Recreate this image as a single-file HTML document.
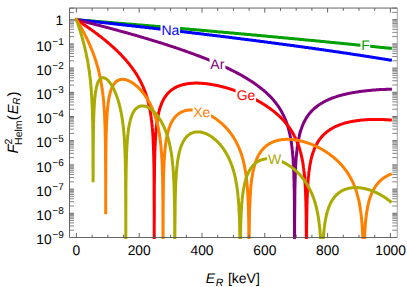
<!DOCTYPE html>
<html><head><meta charset="utf-8"><style>
html,body{margin:0;padding:0;background:#fff}
svg{display:block}
text{font-family:"Liberation Sans",sans-serif;text-rendering:geometricPrecision}
</style></head><body>
<svg width="407" height="287" viewBox="0 0 407 287">
<rect width="407" height="287" fill="#fff"/>
<defs><clipPath id="c"><rect x="69.5" y="8.05" width="327.80" height="230.85"/></clipPath><clipPath id="cXe"><path clip-rule="evenodd" d="M69.5 8.05 H397.3 V238.9 H69.5 Z M99.7 214.2 h12 V240 h-12 Z"/></clipPath><clipPath id="cW"><path clip-rule="evenodd" d="M69.5 8.05 H397.3 V238.9 H69.5 Z M87.1 182.3 h12 V240 h-12 Z"/></clipPath></defs>
<g clip-path="url(#c)" fill="none" stroke-width="3.0" stroke-linejoin="round" stroke-linecap="square">
<path d="M76.4 19.7 L77.0 19.8 L77.7 19.8 L78.3 19.9 L78.9 19.9 L79.5 20.0 L80.2 20.0 L80.8 20.1 L81.4 20.1 L82.1 20.2 L82.7 20.2 L83.3 20.3 L83.9 20.3 L84.6 20.4 L85.2 20.4 L85.8 20.5 L86.4 20.5 L87.1 20.6 L87.7 20.6 L88.3 20.7 L89.0 20.7 L89.6 20.8 L90.2 20.8 L90.8 20.9 L91.5 20.9 L92.1 21.0 L92.7 21.0 L93.4 21.1 L94.0 21.1 L94.6 21.2 L95.2 21.2 L95.9 21.3 L96.5 21.4 L97.1 21.4 L97.8 21.5 L98.4 21.5 L99.0 21.6 L99.6 21.6 L100.3 21.7 L100.9 21.7 L101.5 21.8 L102.1 21.8 L102.8 21.9 L103.4 21.9 L104.0 22.0 L104.7 22.0 L105.3 22.1 L105.9 22.1 L106.5 22.2 L107.2 22.2 L107.8 22.3 L108.4 22.3 L109.1 22.4 L109.7 22.4 L110.3 22.5 L110.9 22.5 L111.6 22.6 L112.2 22.7 L112.8 22.7 L113.5 22.8 L114.1 22.8 L114.7 22.9 L115.3 22.9 L116.0 23.0 L116.6 23.0 L117.2 23.1 L117.8 23.1 L118.5 23.2 L119.1 23.2 L119.7 23.3 L120.4 23.3 L121.0 23.4 L121.6 23.4 L122.2 23.5 L122.9 23.5 L123.5 23.6 L124.1 23.7 L124.8 23.7 L125.4 23.8 L126.0 23.8 L126.6 23.9 L127.3 23.9 L127.9 24.0 L128.5 24.0 L129.2 24.1 L129.8 24.1 L130.4 24.2 L131.0 24.2 L131.7 24.3 L132.3 24.3 L132.9 24.4 L133.5 24.4 L134.2 24.5 L134.8 24.5 L135.4 24.6 L136.1 24.7 L136.7 24.7 L137.3 24.8 L137.9 24.8 L138.6 24.9 L139.2 24.9 L139.8 25.0 L140.5 25.0 L141.1 25.1 L141.7 25.1 L142.3 25.2 L143.0 25.2 L143.6 25.3 L144.2 25.3 L144.9 25.4 L145.5 25.5 L146.1 25.5 L146.7 25.6 L147.4 25.6 L148.0 25.7 L148.6 25.7 L149.2 25.8 L149.9 25.8 L150.5 25.9 L151.1 25.9 L151.8 26.0 L152.4 26.0 L153.0 26.1 L153.6 26.1 L154.3 26.2 L154.9 26.3 L155.5 26.3 L156.2 26.4 L156.8 26.4 L157.4 26.5 L158.0 26.5 L158.7 26.6 L159.3 26.6 L159.9 26.7 L160.6 26.7 L161.2 26.8 L161.8 26.8 L162.4 26.9 L163.1 27.0 L163.7 27.0 L164.3 27.1 L164.9 27.1 L165.6 27.2 L166.2 27.2 L166.8 27.3 L167.5 27.3 L168.1 27.4 L168.7 27.4 L169.3 27.5 L170.0 27.6 L170.6 27.6 L171.2 27.7 L171.9 27.7 L172.5 27.8 L173.1 27.8 L173.7 27.9 L174.4 27.9 L175.0 28.0 L175.6 28.0 L176.3 28.1 L176.9 28.1 L177.5 28.2 L178.1 28.3 L178.8 28.3 L179.4 28.4 L180.0 28.4 L180.6 28.5 L181.3 28.5 L181.9 28.6 L182.5 28.6 L183.2 28.7 L183.8 28.8 L184.4 28.8 L185.0 28.9 L185.7 28.9 L186.3 29.0 L186.9 29.0 L187.6 29.1 L188.2 29.1 L188.8 29.2 L189.4 29.2 L190.1 29.3 L190.7 29.4 L191.3 29.4 L192.0 29.5 L192.6 29.5 L193.2 29.6 L193.8 29.6 L194.5 29.7 L195.1 29.7 L195.7 29.8 L196.3 29.8 L197.0 29.9 L197.6 30.0 L198.2 30.0 L198.9 30.1 L199.5 30.1 L200.1 30.2 L200.7 30.2 L201.4 30.3 L202.0 30.3 L202.6 30.4 L203.3 30.5 L203.9 30.5 L204.5 30.6 L205.1 30.6 L205.8 30.7 L206.4 30.7 L207.0 30.8 L207.7 30.8 L208.3 30.9 L208.9 31.0 L209.5 31.0 L210.2 31.1 L210.8 31.1 L211.4 31.2 L212.0 31.2 L212.7 31.3 L213.3 31.3 L213.9 31.4 L214.6 31.5 L215.2 31.5 L215.8 31.6 L216.4 31.6 L217.1 31.7 L217.7 31.7 L218.3 31.8 L219.0 31.9 L219.6 31.9 L220.2 32.0 L220.8 32.0 L221.5 32.1 L222.1 32.1 L222.7 32.2 L223.4 32.2 L224.0 32.3 L224.6 32.4 L225.2 32.4 L225.9 32.5 L226.5 32.5 L227.1 32.6 L227.7 32.6 L228.4 32.7 L229.0 32.8 L229.6 32.8 L230.3 32.9 L230.9 32.9 L231.5 33.0 L232.1 33.0 L232.8 33.1 L233.4 33.1 L234.0 33.2 L234.7 33.3 L235.3 33.3 L235.9 33.4 L236.5 33.4 L237.2 33.5 L237.8 33.5 L238.4 33.6 L239.1 33.7 L239.7 33.7 L240.3 33.8 L240.9 33.8 L241.6 33.9 L242.2 33.9 L242.8 34.0 L243.4 34.1 L244.1 34.1 L244.7 34.2 L245.3 34.2 L246.0 34.3 L246.6 34.3 L247.2 34.4 L247.8 34.5 L248.5 34.5 L249.1 34.6 L249.7 34.6 L250.4 34.7 L251.0 34.7 L251.6 34.8 L252.2 34.9 L252.9 34.9 L253.5 35.0 L254.1 35.0 L254.8 35.1 L255.4 35.1 L256.0 35.2 L256.6 35.3 L257.3 35.3 L257.9 35.4 L258.5 35.4 L259.1 35.5 L259.8 35.6 L260.4 35.6 L261.0 35.7 L261.7 35.7 L262.3 35.8 L262.9 35.8 L263.5 35.9 L264.2 36.0 L264.8 36.0 L265.4 36.1 L266.1 36.1 L266.7 36.2 L267.3 36.3 L267.9 36.3 L268.6 36.4 L269.2 36.4 L269.8 36.5 L270.5 36.5 L271.1 36.6 L271.7 36.7 L272.3 36.7 L273.0 36.8 L273.6 36.8 L274.2 36.9 L274.8 37.0 L275.5 37.0 L276.1 37.1 L276.7 37.1 L277.4 37.2 L278.0 37.2 L278.6 37.3 L279.2 37.4 L279.9 37.4 L280.5 37.5 L281.1 37.5 L281.8 37.6 L282.4 37.7 L283.0 37.7 L283.6 37.8 L284.3 37.8 L284.9 37.9 L285.5 38.0 L286.2 38.0 L286.8 38.1 L287.4 38.1 L288.0 38.2 L288.7 38.2 L289.3 38.3 L289.9 38.4 L290.5 38.4 L291.2 38.5 L291.8 38.5 L292.4 38.6 L293.1 38.7 L293.7 38.7 L294.3 38.8 L294.9 38.8 L295.6 38.9 L296.2 39.0 L296.8 39.0 L297.5 39.1 L298.1 39.1 L298.7 39.2 L299.3 39.3 L300.0 39.3 L300.6 39.4 L301.2 39.4 L301.9 39.5 L302.5 39.6 L303.1 39.6 L303.7 39.7 L304.4 39.7 L305.0 39.8 L305.6 39.9 L306.2 39.9 L306.9 40.0 L307.5 40.0 L308.1 40.1 L308.8 40.2 L309.4 40.2 L310.0 40.3 L310.6 40.3 L311.3 40.4 L311.9 40.5 L312.5 40.5 L313.2 40.6 L313.8 40.6 L314.4 40.7 L315.0 40.8 L315.7 40.8 L316.3 40.9 L316.9 40.9 L317.6 41.0 L318.2 41.1 L318.8 41.1 L319.4 41.2 L320.1 41.3 L320.7 41.3 L321.3 41.4 L321.9 41.4 L322.6 41.5 L323.2 41.6 L323.8 41.6 L324.5 41.7 L325.1 41.7 L325.7 41.8 L326.3 41.9 L327.0 41.9 L327.6 42.0 L328.2 42.0 L328.9 42.1 L329.5 42.2 L330.1 42.2 L330.7 42.3 L331.4 42.4 L332.0 42.4 L332.6 42.5 L333.3 42.5 L333.9 42.6 L334.5 42.7 L335.1 42.7 L335.8 42.8 L336.4 42.9 L337.0 42.9 L337.6 43.0 L338.3 43.0 L338.9 43.1 L339.5 43.2 L340.2 43.2 L340.8 43.3 L341.4 43.3 L342.0 43.4 L342.7 43.5 L343.3 43.5 L343.9 43.6 L344.6 43.7 L345.2 43.7 L345.8 43.8 L346.4 43.8 L347.1 43.9 L347.7 44.0 L348.3 44.0 L349.0 44.1 L349.6 44.2 L350.2 44.2 L350.8 44.3 L351.5 44.3 L352.1 44.4 L352.7 44.5 L353.3 44.5 L354.0 44.6 L354.6 44.7 L355.2 44.7 L355.9 44.8 L356.5 44.9 L357.1 44.9 L357.7 45.0 L358.4 45.0 L359.0 45.1 L359.6 45.2 L360.3 45.2 L360.9 45.3 L361.5 45.4 L362.1 45.4 L362.8 45.5 L363.4 45.6 L364.0 45.6 L364.7 45.7 L365.3 45.7 L365.9 45.8 L366.5 45.9 L367.2 45.9 L367.8 46.0 L368.4 46.1 L369.0 46.1 L369.7 46.2 L370.3 46.3 L370.9 46.3 L371.6 46.4 L372.2 46.4 L372.8 46.5 L373.4 46.6 L374.1 46.6 L374.7 46.7 L375.3 46.8 L376.0 46.8 L376.6 46.9 L377.2 47.0 L377.8 47.0 L378.5 47.1 L379.1 47.2 L379.7 47.2 L380.4 47.3 L381.0 47.4 L381.6 47.4 L382.2 47.5 L382.9 47.5 L383.5 47.6 L384.1 47.7 L384.7 47.7 L385.4 47.8 L386.0 47.9 L386.6 47.9 L387.3 48.0 L387.9 48.1 L388.5 48.1 L389.1 48.2 L389.8 48.3 L390.4 48.3" stroke="#00a000"/>
<path d="M76.4 19.7 L77.0 19.8 L77.7 19.8 L78.3 19.9 L78.9 20.0 L79.5 20.0 L80.2 20.1 L80.8 20.2 L81.4 20.2 L82.1 20.3 L82.7 20.4 L83.3 20.4 L83.9 20.5 L84.6 20.6 L85.2 20.7 L85.8 20.7 L86.4 20.8 L87.1 20.9 L87.7 20.9 L88.3 21.0 L89.0 21.1 L89.6 21.1 L90.2 21.2 L90.8 21.3 L91.5 21.3 L92.1 21.4 L92.7 21.5 L93.4 21.5 L94.0 21.6 L94.6 21.7 L95.2 21.7 L95.9 21.8 L96.5 21.9 L97.1 22.0 L97.8 22.0 L98.4 22.1 L99.0 22.2 L99.6 22.2 L100.3 22.3 L100.9 22.4 L101.5 22.4 L102.1 22.5 L102.8 22.6 L103.4 22.6 L104.0 22.7 L104.7 22.8 L105.3 22.8 L105.9 22.9 L106.5 23.0 L107.2 23.1 L107.8 23.1 L108.4 23.2 L109.1 23.3 L109.7 23.3 L110.3 23.4 L110.9 23.5 L111.6 23.5 L112.2 23.6 L112.8 23.7 L113.5 23.8 L114.1 23.8 L114.7 23.9 L115.3 24.0 L116.0 24.0 L116.6 24.1 L117.2 24.2 L117.8 24.2 L118.5 24.3 L119.1 24.4 L119.7 24.4 L120.4 24.5 L121.0 24.6 L121.6 24.7 L122.2 24.7 L122.9 24.8 L123.5 24.9 L124.1 24.9 L124.8 25.0 L125.4 25.1 L126.0 25.2 L126.6 25.2 L127.3 25.3 L127.9 25.4 L128.5 25.4 L129.2 25.5 L129.8 25.6 L130.4 25.6 L131.0 25.7 L131.7 25.8 L132.3 25.9 L132.9 25.9 L133.5 26.0 L134.2 26.1 L134.8 26.1 L135.4 26.2 L136.1 26.3 L136.7 26.4 L137.3 26.4 L137.9 26.5 L138.6 26.6 L139.2 26.6 L139.8 26.7 L140.5 26.8 L141.1 26.9 L141.7 26.9 L142.3 27.0 L143.0 27.1 L143.6 27.1 L144.2 27.2 L144.9 27.3 L145.5 27.4 L146.1 27.4 L146.7 27.5 L147.4 27.6 L148.0 27.6 L148.6 27.7 L149.2 27.8 L149.9 27.9 L150.5 27.9 L151.1 28.0 L151.8 28.1 L152.4 28.1 L153.0 28.2 L153.6 28.3 L154.3 28.4 L154.9 28.4 L155.5 28.5 L156.2 28.6 L156.8 28.7 L157.4 28.7 L158.0 28.8 L158.7 28.9 L159.3 28.9 L159.9 29.0 L160.6 29.1 L161.2 29.2 L161.8 29.2 L162.4 29.3 L163.1 29.4 L163.7 29.5 L164.3 29.5 L164.9 29.6 L165.6 29.7 L166.2 29.7 L166.8 29.8 L167.5 29.9 L168.1 30.0 L168.7 30.0 L169.3 30.1 L170.0 30.2 L170.6 30.3 L171.2 30.3 L171.9 30.4 L172.5 30.5 L173.1 30.6 L173.7 30.6 L174.4 30.7 L175.0 30.8 L175.6 30.8 L176.3 30.9 L176.9 31.0 L177.5 31.1 L178.1 31.1 L178.8 31.2 L179.4 31.3 L180.0 31.4 L180.6 31.4 L181.3 31.5 L181.9 31.6 L182.5 31.7 L183.2 31.7 L183.8 31.8 L184.4 31.9 L185.0 32.0 L185.7 32.0 L186.3 32.1 L186.9 32.2 L187.6 32.3 L188.2 32.3 L188.8 32.4 L189.4 32.5 L190.1 32.6 L190.7 32.6 L191.3 32.7 L192.0 32.8 L192.6 32.9 L193.2 32.9 L193.8 33.0 L194.5 33.1 L195.1 33.2 L195.7 33.2 L196.3 33.3 L197.0 33.4 L197.6 33.5 L198.2 33.5 L198.9 33.6 L199.5 33.7 L200.1 33.8 L200.7 33.8 L201.4 33.9 L202.0 34.0 L202.6 34.1 L203.3 34.1 L203.9 34.2 L204.5 34.3 L205.1 34.4 L205.8 34.4 L206.4 34.5 L207.0 34.6 L207.7 34.7 L208.3 34.8 L208.9 34.8 L209.5 34.9 L210.2 35.0 L210.8 35.1 L211.4 35.1 L212.0 35.2 L212.7 35.3 L213.3 35.4 L213.9 35.4 L214.6 35.5 L215.2 35.6 L215.8 35.7 L216.4 35.8 L217.1 35.8 L217.7 35.9 L218.3 36.0 L219.0 36.1 L219.6 36.1 L220.2 36.2 L220.8 36.3 L221.5 36.4 L222.1 36.4 L222.7 36.5 L223.4 36.6 L224.0 36.7 L224.6 36.8 L225.2 36.8 L225.9 36.9 L226.5 37.0 L227.1 37.1 L227.7 37.1 L228.4 37.2 L229.0 37.3 L229.6 37.4 L230.3 37.5 L230.9 37.5 L231.5 37.6 L232.1 37.7 L232.8 37.8 L233.4 37.9 L234.0 37.9 L234.7 38.0 L235.3 38.1 L235.9 38.2 L236.5 38.2 L237.2 38.3 L237.8 38.4 L238.4 38.5 L239.1 38.6 L239.7 38.6 L240.3 38.7 L240.9 38.8 L241.6 38.9 L242.2 39.0 L242.8 39.0 L243.4 39.1 L244.1 39.2 L244.7 39.3 L245.3 39.4 L246.0 39.4 L246.6 39.5 L247.2 39.6 L247.8 39.7 L248.5 39.8 L249.1 39.8 L249.7 39.9 L250.4 40.0 L251.0 40.1 L251.6 40.2 L252.2 40.2 L252.9 40.3 L253.5 40.4 L254.1 40.5 L254.8 40.6 L255.4 40.6 L256.0 40.7 L256.6 40.8 L257.3 40.9 L257.9 41.0 L258.5 41.1 L259.1 41.1 L259.8 41.2 L260.4 41.3 L261.0 41.4 L261.7 41.5 L262.3 41.5 L262.9 41.6 L263.5 41.7 L264.2 41.8 L264.8 41.9 L265.4 42.0 L266.1 42.0 L266.7 42.1 L267.3 42.2 L267.9 42.3 L268.6 42.4 L269.2 42.4 L269.8 42.5 L270.5 42.6 L271.1 42.7 L271.7 42.8 L272.3 42.9 L273.0 42.9 L273.6 43.0 L274.2 43.1 L274.8 43.2 L275.5 43.3 L276.1 43.4 L276.7 43.4 L277.4 43.5 L278.0 43.6 L278.6 43.7 L279.2 43.8 L279.9 43.9 L280.5 43.9 L281.1 44.0 L281.8 44.1 L282.4 44.2 L283.0 44.3 L283.6 44.4 L284.3 44.4 L284.9 44.5 L285.5 44.6 L286.2 44.7 L286.8 44.8 L287.4 44.9 L288.0 45.0 L288.7 45.0 L289.3 45.1 L289.9 45.2 L290.5 45.3 L291.2 45.4 L291.8 45.5 L292.4 45.6 L293.1 45.6 L293.7 45.7 L294.3 45.8 L294.9 45.9 L295.6 46.0 L296.2 46.1 L296.8 46.2 L297.5 46.2 L298.1 46.3 L298.7 46.4 L299.3 46.5 L300.0 46.6 L300.6 46.7 L301.2 46.8 L301.9 46.8 L302.5 46.9 L303.1 47.0 L303.7 47.1 L304.4 47.2 L305.0 47.3 L305.6 47.4 L306.2 47.4 L306.9 47.5 L307.5 47.6 L308.1 47.7 L308.8 47.8 L309.4 47.9 L310.0 48.0 L310.6 48.1 L311.3 48.1 L311.9 48.2 L312.5 48.3 L313.2 48.4 L313.8 48.5 L314.4 48.6 L315.0 48.7 L315.7 48.8 L316.3 48.9 L316.9 48.9 L317.6 49.0 L318.2 49.1 L318.8 49.2 L319.4 49.3 L320.1 49.4 L320.7 49.5 L321.3 49.6 L321.9 49.7 L322.6 49.7 L323.2 49.8 L323.8 49.9 L324.5 50.0 L325.1 50.1 L325.7 50.2 L326.3 50.3 L327.0 50.4 L327.6 50.5 L328.2 50.6 L328.9 50.7 L329.5 50.7 L330.1 50.8 L330.7 50.9 L331.4 51.0 L332.0 51.1 L332.6 51.2 L333.3 51.3 L333.9 51.4 L334.5 51.5 L335.1 51.6 L335.8 51.7 L336.4 51.7 L337.0 51.8 L337.6 51.9 L338.3 52.0 L338.9 52.1 L339.5 52.2 L340.2 52.3 L340.8 52.4 L341.4 52.5 L342.0 52.6 L342.7 52.7 L343.3 52.8 L343.9 52.9 L344.6 53.0 L345.2 53.0 L345.8 53.1 L346.4 53.2 L347.1 53.3 L347.7 53.4 L348.3 53.5 L349.0 53.6 L349.6 53.7 L350.2 53.8 L350.8 53.9 L351.5 54.0 L352.1 54.1 L352.7 54.2 L353.3 54.3 L354.0 54.4 L354.6 54.5 L355.2 54.6 L355.9 54.7 L356.5 54.7 L357.1 54.8 L357.7 54.9 L358.4 55.0 L359.0 55.1 L359.6 55.2 L360.3 55.3 L360.9 55.4 L361.5 55.5 L362.1 55.6 L362.8 55.7 L363.4 55.8 L364.0 55.9 L364.7 56.0 L365.3 56.1 L365.9 56.2 L366.5 56.3 L367.2 56.4 L367.8 56.5 L368.4 56.6 L369.0 56.7 L369.7 56.8 L370.3 56.9 L370.9 57.0 L371.6 57.1 L372.2 57.2 L372.8 57.3 L373.4 57.4 L374.1 57.5 L374.7 57.6 L375.3 57.7 L376.0 57.8 L376.6 57.9 L377.2 58.0 L377.8 58.1 L378.5 58.2 L379.1 58.3 L379.7 58.4 L380.4 58.5 L381.0 58.6 L381.6 58.7 L382.2 58.8 L382.9 58.9 L383.5 59.0 L384.1 59.1 L384.7 59.2 L385.4 59.3 L386.0 59.4 L386.6 59.5 L387.3 59.6 L387.9 59.7 L388.5 59.8 L389.1 59.9 L389.8 60.0 L390.4 60.1" stroke="#0000ff"/>
<path d="M76.4 19.7 L77.0 19.9 L77.7 20.0 L78.3 20.2 L78.9 20.3 L79.5 20.5 L80.2 20.6 L80.8 20.8 L81.4 20.9 L82.1 21.1 L82.7 21.3 L83.3 21.4 L83.9 21.6 L84.6 21.7 L85.2 21.9 L85.8 22.0 L86.4 22.2 L87.1 22.4 L87.7 22.5 L88.3 22.7 L89.0 22.8 L89.6 23.0 L90.2 23.2 L90.8 23.3 L91.5 23.5 L92.1 23.6 L92.7 23.8 L93.4 24.0 L94.0 24.1 L94.6 24.3 L95.2 24.4 L95.9 24.6 L96.5 24.8 L97.1 24.9 L97.8 25.1 L98.4 25.2 L99.0 25.4 L99.6 25.6 L100.3 25.7 L100.9 25.9 L101.5 26.1 L102.1 26.2 L102.8 26.4 L103.4 26.6 L104.0 26.7 L104.7 26.9 L105.3 27.1 L105.9 27.2 L106.5 27.4 L107.2 27.5 L107.8 27.7 L108.4 27.9 L109.1 28.0 L109.7 28.2 L110.3 28.4 L110.9 28.6 L111.6 28.7 L112.2 28.9 L112.8 29.1 L113.5 29.2 L114.1 29.4 L114.7 29.6 L115.3 29.7 L116.0 29.9 L116.6 30.1 L117.2 30.2 L117.8 30.4 L118.5 30.6 L119.1 30.8 L119.7 30.9 L120.4 31.1 L121.0 31.3 L121.6 31.4 L122.2 31.6 L122.9 31.8 L123.5 32.0 L124.1 32.1 L124.8 32.3 L125.4 32.5 L126.0 32.7 L126.6 32.8 L127.3 33.0 L127.9 33.2 L128.5 33.4 L129.2 33.5 L129.8 33.7 L130.4 33.9 L131.0 34.1 L131.7 34.3 L132.3 34.4 L132.9 34.6 L133.5 34.8 L134.2 35.0 L134.8 35.1 L135.4 35.3 L136.1 35.5 L136.7 35.7 L137.3 35.9 L137.9 36.0 L138.6 36.2 L139.2 36.4 L139.8 36.6 L140.5 36.8 L141.1 37.0 L141.7 37.1 L142.3 37.3 L143.0 37.5 L143.6 37.7 L144.2 37.9 L144.9 38.1 L145.5 38.3 L146.1 38.4 L146.7 38.6 L147.4 38.8 L148.0 39.0 L148.6 39.2 L149.2 39.4 L149.9 39.6 L150.5 39.8 L151.1 39.9 L151.8 40.1 L152.4 40.3 L153.0 40.5 L153.6 40.7 L154.3 40.9 L154.9 41.1 L155.5 41.3 L156.2 41.5 L156.8 41.7 L157.4 41.9 L158.0 42.1 L158.7 42.3 L159.3 42.5 L159.9 42.7 L160.6 42.8 L161.2 43.0 L161.8 43.2 L162.4 43.4 L163.1 43.6 L163.7 43.8 L164.3 44.0 L164.9 44.2 L165.6 44.4 L166.2 44.6 L166.8 44.8 L167.5 45.0 L168.1 45.3 L168.7 45.5 L169.3 45.7 L170.0 45.9 L170.6 46.1 L171.2 46.3 L171.9 46.5 L172.5 46.7 L173.1 46.9 L173.7 47.1 L174.4 47.3 L175.0 47.5 L175.6 47.7 L176.3 47.9 L176.9 48.2 L177.5 48.4 L178.1 48.6 L178.8 48.8 L179.4 49.0 L180.0 49.2 L180.6 49.4 L181.3 49.7 L181.9 49.9 L182.5 50.1 L183.2 50.3 L183.8 50.5 L184.4 50.7 L185.0 51.0 L185.7 51.2 L186.3 51.4 L186.9 51.6 L187.6 51.9 L188.2 52.1 L188.8 52.3 L189.4 52.5 L190.1 52.8 L190.7 53.0 L191.3 53.2 L192.0 53.4 L192.6 53.7 L193.2 53.9 L193.8 54.1 L194.5 54.4 L195.1 54.6 L195.7 54.8 L196.3 55.1 L197.0 55.3 L197.6 55.5 L198.2 55.8 L198.9 56.0 L199.5 56.2 L200.1 56.5 L200.7 56.7 L201.4 57.0 L202.0 57.2 L202.6 57.5 L203.3 57.7 L203.9 57.9 L204.5 58.2 L205.1 58.4 L205.8 58.7 L206.4 58.9 L207.0 59.2 L207.7 59.4 L208.3 59.7 L208.9 60.0 L209.5 60.2 L210.2 60.5 L210.8 60.7 L211.4 61.0 L212.0 61.3 L212.7 61.5 L213.3 61.8 L213.9 62.0 L214.6 62.3 L215.2 62.6 L215.8 62.8 L216.4 63.1 L217.1 63.4 L217.7 63.7 L218.3 63.9 L219.0 64.2 L219.6 64.5 L220.2 64.8 L220.8 65.0 L221.5 65.3 L222.1 65.6 L222.7 65.9 L223.4 66.2 L224.0 66.5 L224.6 66.8 L225.2 67.1 L225.9 67.4 L226.5 67.6 L227.1 67.9 L227.7 68.2 L228.4 68.5 L229.0 68.8 L229.6 69.2 L230.3 69.5 L230.9 69.8 L231.5 70.1 L232.1 70.4 L232.8 70.7 L233.4 71.0 L234.0 71.4 L234.7 71.7 L235.3 72.0 L235.9 72.3 L236.5 72.7 L237.2 73.0 L237.8 73.3 L238.4 73.7 L239.1 74.0 L239.7 74.3 L240.3 74.7 L240.9 75.0 L241.6 75.4 L242.2 75.7 L242.8 76.1 L243.4 76.5 L244.1 76.8 L244.7 77.2 L245.3 77.6 L246.0 77.9 L246.6 78.3 L247.2 78.7 L247.8 79.1 L248.5 79.5 L249.1 79.9 L249.7 80.3 L250.4 80.7 L251.0 81.1 L251.6 81.5 L252.2 81.9 L252.9 82.3 L253.5 82.7 L254.1 83.2 L254.8 83.6 L255.4 84.0 L256.0 84.5 L256.6 84.9 L257.3 85.4 L257.9 85.8 L258.5 86.3 L259.1 86.8 L259.8 87.3 L260.4 87.8 L261.0 88.3 L261.7 88.8 L262.3 89.3 L262.9 89.8 L263.5 90.3 L264.2 90.8 L264.8 91.4 L265.4 91.9 L266.1 92.5 L266.7 93.1 L267.3 93.7 L267.9 94.3 L268.6 94.9 L269.2 95.5 L269.8 96.1 L270.5 96.8 L271.1 97.4 L271.7 98.1 L272.3 98.8 L273.0 99.5 L273.6 100.2 L274.2 101.0 L274.8 101.7 L275.5 102.5 L276.1 103.3 L276.7 104.2 L277.4 105.0 L278.0 105.9 L278.6 106.7 L279.1 107.6 L279.7 108.5 L280.2 109.3 L280.7 110.1 L281.2 111.0 L281.7 111.9 L282.1 112.7 L282.6 113.5 L283.0 114.4 L283.5 115.3 L283.9 116.2 L284.3 117.0 L284.6 117.8 L285.0 118.7 L285.4 119.6 L285.8 120.6 L286.1 121.4 L286.4 122.2 L286.7 123.1 L287.0 124.0 L287.3 125.0 L287.7 126.0 L287.9 126.8 L288.2 127.6 L288.4 128.5 L288.7 129.5 L288.9 130.4 L289.2 131.4 L289.4 132.5 L289.6 133.3 L289.8 134.1 L290.0 135.0 L290.2 135.9 L290.4 136.9 L290.5 137.9 L290.7 138.9 L290.9 140.0 L291.1 141.1 L291.2 141.9 L291.4 142.8 L291.5 143.6 L291.6 144.5 L291.7 145.5 L291.9 146.4 L292.0 147.5 L292.1 148.5 L292.2 149.7 L292.4 150.9 L292.5 152.1 L292.6 153.4 L292.7 154.9 L292.9 156.4 L292.9 157.2 L293.0 158.0 L293.1 158.9 L293.1 159.8 L293.2 160.8 L293.2 161.7 L293.3 162.8 L293.4 163.9 L293.4 165.0 L293.5 166.2 L293.6 167.5 L293.6 168.9 L293.7 170.3 L293.8 171.9 L293.8 173.6 L293.9 175.4 L293.9 177.4 L294.0 179.7 L294.1 182.2 L294.1 185.0 L294.2 188.2 L294.3 192.1 L294.3 196.8 L294.4 202.8 L294.4 211.3 L294.5 225.9 L294.5 240.5 L294.6 242.0 L294.6 240.6 L294.6 226.1 L294.7 211.5 L294.8 202.9 L294.8 196.9 L294.9 192.2 L294.9 188.4 L295.0 185.2 L295.1 182.4 L295.1 179.9 L295.2 177.7 L295.3 175.7 L295.3 173.9 L295.4 172.2 L295.4 170.7 L295.5 169.2 L295.6 167.9 L295.6 166.6 L295.7 165.4 L295.8 164.3 L295.8 163.2 L295.9 162.2 L295.9 161.2 L296.0 160.3 L296.1 159.4 L296.1 158.6 L296.2 157.8 L296.3 156.2 L296.5 154.8 L296.6 153.5 L296.7 152.2 L296.8 151.0 L297.0 149.9 L297.1 148.9 L297.2 147.9 L297.3 146.9 L297.5 146.0 L297.6 145.1 L297.7 144.3 L297.8 143.5 L298.0 142.3 L298.2 141.2 L298.4 140.2 L298.6 139.2 L298.8 138.3 L299.0 137.4 L299.2 136.6 L299.3 135.8 L299.6 134.7 L299.8 133.7 L300.1 132.8 L300.3 131.9 L300.6 131.1 L300.8 130.3 L301.2 129.3 L301.5 128.4 L301.8 127.5 L302.1 126.6 L302.4 125.8 L302.8 124.9 L303.2 124.0 L303.5 123.2 L304.0 122.3 L304.4 121.4 L304.9 120.6 L305.3 119.7 L305.8 118.9 L306.3 118.0 L306.9 117.2 L307.4 116.3 L308.0 115.5 L308.6 114.7 L309.3 113.8 L309.9 113.1 L310.5 112.3 L311.1 111.6 L311.8 111.0 L312.4 110.3 L313.0 109.7 L313.7 109.1 L314.3 108.5 L314.9 108.0 L315.5 107.5 L316.2 107.0 L316.8 106.5 L317.4 106.0 L318.1 105.5 L318.7 105.1 L319.3 104.7 L319.9 104.2 L320.6 103.8 L321.2 103.4 L321.8 103.1 L322.5 102.7 L323.1 102.3 L323.7 102.0 L324.3 101.7 L325.0 101.3 L325.6 101.0 L326.2 100.7 L326.8 100.4 L327.5 100.1 L328.1 99.8 L328.7 99.5 L329.4 99.3 L330.0 99.0 L330.6 98.7 L331.2 98.5 L331.9 98.2 L332.5 98.0 L333.1 97.8 L333.8 97.5 L334.4 97.3 L335.0 97.1 L335.6 96.9 L336.3 96.7 L336.9 96.5 L337.5 96.3 L338.2 96.1 L338.8 95.9 L339.4 95.7 L340.0 95.5 L340.7 95.4 L341.3 95.2 L341.9 95.0 L342.5 94.9 L343.2 94.7 L343.8 94.6 L344.4 94.4 L345.1 94.3 L345.7 94.1 L346.3 94.0 L346.9 93.8 L347.6 93.7 L348.2 93.6 L348.8 93.4 L349.5 93.3 L350.1 93.2 L350.7 93.0 L351.3 92.9 L352.0 92.8 L352.6 92.7 L353.2 92.6 L353.9 92.5 L354.5 92.4 L355.1 92.3 L355.7 92.2 L356.4 92.1 L357.0 92.0 L357.6 91.9 L358.2 91.8 L358.9 91.7 L359.5 91.6 L360.1 91.5 L360.8 91.4 L361.4 91.3 L362.0 91.3 L362.6 91.2 L363.3 91.1 L363.9 91.0 L364.5 90.9 L365.2 90.9 L365.8 90.8 L366.4 90.7 L367.0 90.7 L367.7 90.6 L368.3 90.5 L368.9 90.5 L369.6 90.4 L370.2 90.4 L370.8 90.3 L371.4 90.2 L372.1 90.2 L372.7 90.1 L373.3 90.1 L373.9 90.0 L374.6 90.0 L375.2 89.9 L375.8 89.9 L376.5 89.8 L377.1 89.8 L377.7 89.8 L378.3 89.7 L379.0 89.7 L379.6 89.6 L380.2 89.6 L380.9 89.6 L381.5 89.5 L382.1 89.5 L382.7 89.5 L383.4 89.4 L384.0 89.4 L384.6 89.4 L385.3 89.4 L385.9 89.3 L386.5 89.3 L387.1 89.3 L387.8 89.3 L388.4 89.2 L389.0 89.2 L389.6 89.2 L390.3 89.2 L390.4 89.2" stroke="#800080"/>
<path d="M76.4 19.7 L77.0 20.1 L77.7 20.5 L78.3 20.9 L78.9 21.3 L79.5 21.7 L80.2 22.1 L80.8 22.6 L81.4 23.0 L82.1 23.4 L82.7 23.8 L83.3 24.2 L83.9 24.7 L84.6 25.1 L85.2 25.5 L85.8 25.9 L86.4 26.4 L87.1 26.8 L87.7 27.2 L88.3 27.7 L89.0 28.1 L89.6 28.5 L90.2 29.0 L90.8 29.4 L91.5 29.9 L92.1 30.3 L92.7 30.8 L93.4 31.2 L94.0 31.7 L94.6 32.2 L95.2 32.6 L95.9 33.1 L96.5 33.6 L97.1 34.0 L97.8 34.5 L98.4 35.0 L99.0 35.5 L99.6 35.9 L100.3 36.4 L100.9 36.9 L101.5 37.4 L102.1 37.9 L102.8 38.4 L103.4 38.9 L104.0 39.4 L104.7 39.9 L105.3 40.4 L105.9 40.9 L106.5 41.5 L107.2 42.0 L107.8 42.5 L108.4 43.1 L109.1 43.6 L109.7 44.1 L110.3 44.7 L110.9 45.2 L111.6 45.8 L112.2 46.3 L112.8 46.9 L113.5 47.5 L114.1 48.0 L114.7 48.6 L115.3 49.2 L116.0 49.8 L116.6 50.4 L117.2 51.0 L117.8 51.6 L118.5 52.2 L119.1 52.9 L119.7 53.5 L120.4 54.1 L121.0 54.8 L121.6 55.4 L122.2 56.1 L122.9 56.8 L123.5 57.4 L124.1 58.1 L124.8 58.8 L125.4 59.5 L126.0 60.2 L126.6 61.0 L127.3 61.7 L127.9 62.5 L128.5 63.2 L129.2 64.0 L129.8 64.8 L130.4 65.6 L131.0 66.4 L131.7 67.2 L132.3 68.1 L132.9 69.0 L133.5 69.9 L134.1 70.7 L134.7 71.5 L135.2 72.4 L135.8 73.2 L136.4 74.1 L136.9 74.9 L137.4 75.7 L137.9 76.6 L138.4 77.5 L138.9 78.3 L139.4 79.3 L139.8 80.1 L140.3 80.9 L140.7 81.8 L141.1 82.6 L141.6 83.5 L142.0 84.5 L142.4 85.3 L142.8 86.1 L143.2 87.0 L143.5 87.9 L143.9 88.8 L144.3 89.7 L144.6 90.5 L144.9 91.4 L145.2 92.2 L145.5 93.1 L145.9 94.0 L146.2 94.9 L146.5 95.9 L146.8 96.9 L147.1 97.7 L147.3 98.6 L147.6 99.5 L147.8 100.4 L148.1 101.3 L148.3 102.3 L148.6 103.3 L148.8 104.4 L149.0 105.2 L149.2 106.1 L149.4 107.0 L149.6 107.9 L149.8 108.8 L149.9 109.8 L150.1 110.8 L150.3 111.9 L150.5 113.0 L150.7 114.2 L150.8 115.0 L150.9 115.8 L151.1 116.7 L151.2 117.6 L151.3 118.6 L151.4 119.5 L151.6 120.6 L151.7 121.6 L151.8 122.8 L151.9 123.9 L152.1 125.2 L152.2 126.5 L152.3 127.9 L152.5 129.4 L152.6 131.0 L152.6 131.8 L152.7 132.7 L152.8 133.6 L152.8 134.5 L152.9 135.5 L153.0 136.6 L153.0 137.6 L153.1 138.8 L153.1 140.0 L153.2 141.3 L153.3 142.6 L153.3 144.1 L153.4 145.6 L153.5 147.3 L153.5 149.1 L153.6 151.0 L153.6 153.2 L153.7 155.6 L153.8 158.3 L153.8 161.4 L153.9 165.0 L154.0 169.4 L154.0 174.9 L154.1 182.4 L154.1 194.0 L154.2 215.0 L154.2 222.3 L154.2 229.6 L154.2 242.0 L154.2 229.6 L154.3 215.0 L154.3 209.7 L154.3 190.0 L154.4 180.1 L154.5 173.4 L154.5 168.3 L154.6 164.2 L154.6 160.8 L154.7 157.9 L154.8 155.3 L154.8 153.1 L154.9 151.0 L155.0 149.2 L155.0 147.5 L155.1 145.9 L155.2 144.4 L155.2 143.1 L155.3 141.8 L155.3 140.6 L155.4 139.5 L155.5 138.4 L155.5 137.4 L155.6 136.4 L155.7 135.5 L155.7 134.6 L155.8 133.8 L155.8 133.0 L156.0 131.4 L156.1 130.0 L156.2 128.7 L156.3 127.5 L156.5 126.3 L156.6 125.2 L156.7 124.2 L156.8 123.2 L157.0 122.3 L157.1 121.4 L157.2 120.5 L157.3 119.7 L157.5 118.6 L157.7 117.5 L157.9 116.5 L158.1 115.5 L158.3 114.6 L158.5 113.7 L158.7 112.9 L158.9 111.8 L159.2 110.9 L159.4 109.9 L159.7 109.0 L159.9 108.2 L160.2 107.2 L160.6 106.3 L160.9 105.4 L161.2 104.6 L161.6 103.6 L161.9 102.7 L162.3 101.9 L162.8 101.0 L163.2 100.1 L163.6 99.3 L164.1 98.4 L164.6 97.6 L165.2 96.8 L165.8 96.0 L166.4 95.1 L167.0 94.3 L167.6 93.6 L168.3 92.9 L168.9 92.3 L169.5 91.7 L170.2 91.1 L170.8 90.6 L171.4 90.1 L172.0 89.7 L172.7 89.2 L173.3 88.8 L173.9 88.4 L174.6 88.0 L175.2 87.7 L175.8 87.4 L176.4 87.0 L177.1 86.7 L177.7 86.5 L178.3 86.2 L179.0 86.0 L179.6 85.7 L180.2 85.5 L180.8 85.3 L181.5 85.1 L182.1 84.9 L182.7 84.7 L183.3 84.6 L184.0 84.4 L184.6 84.3 L185.2 84.2 L185.9 84.0 L186.5 83.9 L187.1 83.8 L187.7 83.7 L188.4 83.6 L189.0 83.6 L189.6 83.5 L190.3 83.4 L190.9 83.4 L191.5 83.3 L192.1 83.3 L192.8 83.2 L193.4 83.2 L194.0 83.2 L194.7 83.1 L195.3 83.1 L195.9 83.1 L196.5 83.1 L197.2 83.1 L197.8 83.1 L198.4 83.1 L199.0 83.2 L199.7 83.2 L200.3 83.2 L200.9 83.3 L201.6 83.3 L202.2 83.3 L202.8 83.4 L203.4 83.4 L204.1 83.5 L204.7 83.5 L205.3 83.6 L206.0 83.7 L206.6 83.7 L207.2 83.8 L207.8 83.9 L208.5 84.0 L209.1 84.1 L209.7 84.2 L210.4 84.3 L211.0 84.4 L211.6 84.5 L212.2 84.6 L212.9 84.7 L213.5 84.8 L214.1 84.9 L214.7 85.0 L215.4 85.2 L216.0 85.3 L216.6 85.4 L217.3 85.5 L217.9 85.7 L218.5 85.8 L219.1 86.0 L219.8 86.1 L220.4 86.3 L221.0 86.4 L221.7 86.6 L222.3 86.7 L222.9 86.9 L223.5 87.0 L224.2 87.2 L224.8 87.4 L225.4 87.6 L226.1 87.7 L226.7 87.9 L227.3 88.1 L227.9 88.3 L228.6 88.5 L229.2 88.7 L229.8 88.9 L230.4 89.1 L231.1 89.3 L231.7 89.5 L232.3 89.7 L233.0 89.9 L233.6 90.1 L234.2 90.3 L234.8 90.5 L235.5 90.7 L236.1 91.0 L236.7 91.2 L237.4 91.4 L238.0 91.7 L238.6 91.9 L239.2 92.1 L239.9 92.4 L240.5 92.6 L241.1 92.9 L241.8 93.1 L242.4 93.4 L243.0 93.7 L243.6 93.9 L244.3 94.2 L244.9 94.4 L245.5 94.7 L246.1 95.0 L246.8 95.3 L247.4 95.6 L248.0 95.8 L248.7 96.1 L249.3 96.4 L249.9 96.7 L250.5 97.0 L251.2 97.3 L251.8 97.6 L252.4 97.9 L253.1 98.3 L253.7 98.6 L254.3 98.9 L254.9 99.2 L255.6 99.6 L256.2 99.9 L256.8 100.2 L257.5 100.6 L258.1 100.9 L258.7 101.3 L259.3 101.6 L260.0 102.0 L260.6 102.4 L261.2 102.7 L261.8 103.1 L262.5 103.5 L263.1 103.9 L263.7 104.3 L264.4 104.7 L265.0 105.1 L265.6 105.5 L266.2 105.9 L266.9 106.3 L267.5 106.8 L268.1 107.2 L268.8 107.6 L269.4 108.1 L270.0 108.5 L270.6 109.0 L271.3 109.5 L271.9 109.9 L272.5 110.4 L273.2 110.9 L273.8 111.4 L274.4 111.9 L275.0 112.4 L275.7 112.9 L276.3 113.5 L276.9 114.0 L277.5 114.6 L278.2 115.1 L278.8 115.7 L279.4 116.3 L280.1 116.9 L280.7 117.5 L281.3 118.1 L281.9 118.8 L282.6 119.4 L283.2 120.1 L283.8 120.8 L284.5 121.5 L285.1 122.2 L285.7 123.0 L286.3 123.7 L287.0 124.5 L287.6 125.3 L288.2 126.1 L288.9 127.0 L289.5 127.8 L290.0 128.7 L290.6 129.5 L291.2 130.4 L291.7 131.3 L292.2 132.1 L292.7 133.0 L293.2 133.8 L293.8 134.7 L294.2 135.6 L294.6 136.4 L295.1 137.3 L295.5 138.2 L295.9 139.0 L296.3 139.9 L296.6 140.7 L297.0 141.6 L297.4 142.6 L297.7 143.4 L298.0 144.2 L298.3 145.0 L298.6 145.9 L299.0 146.9 L299.3 147.8 L299.6 148.8 L299.8 149.7 L300.1 150.5 L300.3 151.4 L300.6 152.4 L300.8 153.3 L301.1 154.3 L301.3 155.4 L301.5 156.2 L301.7 157.1 L301.9 158.0 L302.1 158.9 L302.3 159.9 L302.5 160.9 L302.7 162.0 L302.9 163.1 L303.0 164.2 L303.2 165.1 L303.3 165.9 L303.4 166.8 L303.5 167.7 L303.7 168.7 L303.8 169.6 L303.9 170.7 L304.1 171.8 L304.2 172.9 L304.3 174.2 L304.4 175.5 L304.6 176.8 L304.7 178.3 L304.8 179.9 L304.9 180.7 L304.9 181.5 L305.0 182.4 L305.1 183.4 L305.1 184.4 L305.2 185.4 L305.2 186.5 L305.3 187.6 L305.4 188.8 L305.4 190.1 L305.5 191.4 L305.6 192.8 L305.6 194.4 L305.7 196.0 L305.7 197.8 L305.8 199.8 L305.9 202.0 L305.9 204.4 L306.0 207.1 L306.1 210.2 L306.1 213.9 L306.2 218.3 L306.2 224.0 L306.3 231.7 L306.4 242.0 L306.6 237.4 L306.6 227.8 L306.7 221.3 L306.8 216.3 L306.8 212.3 L306.9 208.9 L306.9 206.0 L307.0 203.5 L307.1 201.2 L307.1 199.2 L307.2 197.3 L307.3 195.6 L307.3 194.0 L307.4 192.6 L307.4 191.2 L307.5 189.9 L307.6 188.7 L307.6 187.6 L307.7 186.5 L307.8 185.5 L307.8 184.5 L307.9 183.5 L307.9 182.6 L308.0 181.8 L308.1 181.0 L308.2 179.4 L308.3 178.0 L308.4 176.7 L308.6 175.4 L308.7 174.2 L308.8 173.1 L308.9 172.0 L309.1 171.0 L309.2 170.1 L309.3 169.2 L309.5 168.3 L309.6 167.4 L309.7 166.6 L309.9 165.5 L310.1 164.4 L310.3 163.4 L310.5 162.4 L310.6 161.5 L310.8 160.6 L311.0 159.8 L311.2 159.0 L311.5 157.9 L311.7 157.0 L312.0 156.0 L312.2 155.1 L312.5 154.3 L312.7 153.5 L313.0 152.5 L313.3 151.6 L313.7 150.8 L314.0 149.9 L314.3 149.0 L314.7 148.1 L315.1 147.2 L315.5 146.4 L315.9 145.5 L316.4 144.7 L316.8 143.9 L317.3 143.0 L317.8 142.1 L318.4 141.2 L318.9 140.4 L319.5 139.6 L320.1 138.8 L320.8 138.0 L321.4 137.2 L322.0 136.5 L322.6 135.8 L323.3 135.1 L323.9 134.5 L324.5 133.9 L325.2 133.3 L325.8 132.8 L326.4 132.3 L327.0 131.8 L327.7 131.3 L328.3 130.8 L328.9 130.4 L329.5 130.0 L330.2 129.5 L330.8 129.1 L331.4 128.8 L332.1 128.4 L332.7 128.0 L333.3 127.7 L333.9 127.4 L334.6 127.0 L335.2 126.7 L335.8 126.4 L336.5 126.2 L337.1 125.9 L337.7 125.6 L338.3 125.3 L339.0 125.1 L339.6 124.9 L340.2 124.6 L340.9 124.4 L341.5 124.2 L342.1 124.0 L342.7 123.8 L343.4 123.6 L344.0 123.4 L344.6 123.2 L345.2 123.0 L345.9 122.8 L346.5 122.7 L347.1 122.5 L347.8 122.4 L348.4 122.2 L349.0 122.1 L349.6 121.9 L350.3 121.8 L350.9 121.7 L351.5 121.5 L352.2 121.4 L352.8 121.3 L353.4 121.2 L354.0 121.1 L354.7 121.0 L355.3 120.9 L355.9 120.8 L356.6 120.7 L357.2 120.6 L357.8 120.5 L358.4 120.4 L359.1 120.4 L359.7 120.3 L360.3 120.2 L360.9 120.1 L361.6 120.1 L362.2 120.0 L362.8 120.0 L363.5 119.9 L364.1 119.9 L364.7 119.8 L365.3 119.8 L366.0 119.7 L366.6 119.7 L367.2 119.7 L367.9 119.6 L368.5 119.6 L369.1 119.6 L369.7 119.5 L370.4 119.5 L371.0 119.5 L371.6 119.5 L372.3 119.5 L372.9 119.5 L373.5 119.4 L374.1 119.4 L374.8 119.4 L375.4 119.4 L376.0 119.4 L376.6 119.4 L377.3 119.4 L377.9 119.4 L378.5 119.5 L379.2 119.5 L379.8 119.5 L380.4 119.5 L381.0 119.5 L381.7 119.5 L382.3 119.6 L382.9 119.6 L383.6 119.6 L384.2 119.6 L384.8 119.7 L385.4 119.7 L386.1 119.7 L386.7 119.8 L387.3 119.8 L388.0 119.8 L388.6 119.9 L389.2 119.9 L389.8 120.0 L390.4 120.0" stroke="#ff0000"/>
<path d="M76.4 19.7 L76.9 20.5 L77.4 21.3 L77.9 22.2 L78.4 23.0 L78.9 23.9 L79.4 24.7 L79.9 25.6 L80.4 26.5 L80.9 27.3 L81.4 28.2 L81.9 29.1 L82.4 30.1 L82.9 30.9 L83.3 31.7 L83.7 32.5 L84.2 33.3 L84.6 34.2 L85.1 35.0 L85.5 35.9 L85.9 36.8 L86.4 37.7 L86.8 38.6 L87.3 39.5 L87.7 40.4 L88.1 41.2 L88.5 42.0 L88.8 42.9 L89.2 43.7 L89.6 44.5 L90.0 45.4 L90.3 46.3 L90.7 47.2 L91.1 48.1 L91.5 49.0 L91.8 49.9 L92.2 50.9 L92.5 51.7 L92.9 52.5 L93.2 53.3 L93.5 54.1 L93.8 55.0 L94.1 55.9 L94.4 56.8 L94.7 57.7 L95.1 58.6 L95.4 59.5 L95.7 60.5 L96.0 61.5 L96.2 62.3 L96.5 63.1 L96.7 63.9 L97.0 64.8 L97.2 65.6 L97.5 66.5 L97.8 67.4 L98.0 68.3 L98.3 69.3 L98.5 70.3 L98.8 71.3 L99.0 72.3 L99.3 73.4 L99.4 74.2 L99.6 75.0 L99.8 75.9 L100.0 76.7 L100.2 77.6 L100.4 78.6 L100.6 79.5 L100.8 80.5 L101.0 81.5 L101.1 82.5 L101.3 83.6 L101.5 84.7 L101.7 85.9 L101.9 87.1 L102.0 87.9 L102.1 88.8 L102.3 89.7 L102.4 90.6 L102.5 91.5 L102.7 92.5 L102.8 93.5 L102.9 94.6 L103.0 95.7 L103.2 96.8 L103.3 98.0 L103.4 99.2 L103.5 100.5 L103.7 101.9 L103.8 103.4 L103.9 104.9 L104.0 105.7 L104.0 106.6 L104.1 107.4 L104.2 108.3 L104.2 109.3 L104.3 110.2 L104.3 111.2 L104.4 112.3 L104.5 113.4 L104.5 114.6 L104.6 115.8 L104.7 117.0 L104.7 118.4 L104.8 119.8 L104.8 121.4 L104.9 123.0 L105.0 124.8 L105.0 126.7 L105.1 128.8 L105.2 131.2 L105.2 133.8 L105.3 136.7 L105.4 140.1 L105.4 144.2 L105.5 149.2 L105.5 155.6 L105.6 165.0 L105.7 182.1 L105.7 192.0 L105.7 206.6 L105.7 225.8 L105.7 240.4 L105.7 242.0 L105.7 240.5 L105.7 225.9 L105.7 211.3 L105.7 206.6 L105.7 192.1 L105.8 173.7 L105.9 161.0 L105.9 153.2 L106.0 147.6 L106.0 143.2 L106.1 139.5 L106.2 136.5 L106.2 133.8 L106.3 131.4 L106.4 129.3 L106.4 127.4 L106.5 125.7 L106.5 124.1 L106.6 122.7 L106.7 121.3 L106.7 120.0 L106.8 118.8 L106.9 117.7 L106.9 116.7 L107.0 115.7 L107.0 114.7 L107.1 113.8 L107.2 112.9 L107.2 112.1 L107.4 110.6 L107.5 109.2 L107.6 107.9 L107.7 106.7 L107.9 105.5 L108.0 104.5 L108.1 103.5 L108.2 102.6 L108.4 101.7 L108.5 100.8 L108.7 99.7 L108.9 98.6 L109.1 97.6 L109.2 96.6 L109.4 95.7 L109.6 94.9 L109.9 93.9 L110.1 92.9 L110.4 92.0 L110.6 91.2 L110.9 90.2 L111.3 89.4 L111.6 88.5 L111.9 87.7 L112.3 86.9 L112.8 86.0 L113.3 85.1 L113.8 84.2 L114.5 83.4 L115.1 82.7 L115.7 82.0 L116.3 81.5 L117.0 81.0 L117.6 80.6 L118.2 80.3 L118.9 80.0 L119.5 79.8 L120.1 79.6 L120.7 79.5 L121.4 79.4 L122.0 79.3 L122.6 79.3 L123.2 79.3 L123.9 79.4 L124.5 79.5 L125.1 79.6 L125.8 79.7 L126.4 79.9 L127.0 80.1 L127.6 80.3 L128.3 80.6 L128.9 80.8 L129.5 81.1 L130.2 81.5 L130.8 81.8 L131.4 82.2 L132.0 82.6 L132.7 83.0 L133.3 83.4 L133.9 83.8 L134.6 84.3 L135.2 84.8 L135.8 85.3 L136.4 85.8 L137.1 86.4 L137.7 87.0 L138.3 87.6 L138.9 88.2 L139.6 88.8 L140.2 89.5 L140.8 90.2 L141.5 90.9 L142.1 91.7 L142.7 92.4 L143.3 93.2 L144.0 94.0 L144.6 94.9 L145.2 95.8 L145.8 96.6 L146.4 97.4 L146.9 98.3 L147.4 99.1 L147.9 100.0 L148.4 100.8 L148.9 101.7 L149.4 102.5 L149.8 103.3 L150.3 104.2 L150.7 105.1 L151.1 106.0 L151.5 106.8 L151.9 107.6 L152.3 108.5 L152.6 109.4 L153.0 110.3 L153.4 111.2 L153.7 112.0 L154.0 112.9 L154.3 113.7 L154.6 114.6 L155.0 115.5 L155.3 116.5 L155.6 117.5 L155.8 118.3 L156.1 119.1 L156.3 120.0 L156.6 120.9 L156.8 121.9 L157.1 122.8 L157.3 123.8 L157.6 124.9 L157.8 125.7 L158.0 126.5 L158.2 127.4 L158.4 128.3 L158.5 129.3 L158.7 130.3 L158.9 131.3 L159.1 132.3 L159.3 133.4 L159.5 134.6 L159.6 135.4 L159.7 136.3 L159.9 137.1 L160.0 138.0 L160.1 139.0 L160.2 139.9 L160.4 141.0 L160.5 142.0 L160.6 143.1 L160.7 144.3 L160.9 145.5 L161.0 146.8 L161.1 148.2 L161.2 149.7 L161.4 151.3 L161.4 152.1 L161.5 152.9 L161.6 153.8 L161.6 154.8 L161.7 155.7 L161.7 156.8 L161.8 157.8 L161.9 159.0 L161.9 160.1 L162.0 161.4 L162.1 162.7 L162.1 164.1 L162.2 165.6 L162.2 167.2 L162.3 169.0 L162.4 170.9 L162.4 173.0 L162.5 175.3 L162.6 177.8 L162.6 180.8 L162.7 184.2 L162.8 188.2 L162.8 193.2 L162.9 199.7 L162.9 209.2 L163.0 226.9 L163.0 235.7 L163.0 242.0 L163.1 235.7 L163.1 216.7 L163.2 204.2 L163.3 196.5 L163.3 190.9 L163.4 186.5 L163.4 182.8 L163.5 179.7 L163.6 177.0 L163.6 174.7 L163.7 172.5 L163.8 170.6 L163.8 168.8 L163.9 167.2 L163.9 165.7 L164.0 164.3 L164.1 163.0 L164.1 161.8 L164.2 160.6 L164.3 159.6 L164.3 158.5 L164.4 157.5 L164.4 156.6 L164.5 155.7 L164.6 154.9 L164.6 154.0 L164.8 152.5 L164.9 151.1 L165.0 149.7 L165.1 148.5 L165.3 147.3 L165.4 146.2 L165.5 145.2 L165.6 144.2 L165.8 143.3 L165.9 142.4 L166.0 141.5 L166.1 140.7 L166.3 139.6 L166.5 138.5 L166.7 137.5 L166.9 136.5 L167.1 135.6 L167.3 134.8 L167.5 133.9 L167.7 132.9 L168.0 131.9 L168.2 131.0 L168.5 130.2 L168.7 129.3 L169.0 128.4 L169.3 127.5 L169.7 126.6 L170.0 125.8 L170.3 124.9 L170.7 124.0 L171.2 123.1 L171.6 122.2 L172.0 121.4 L172.5 120.6 L173.1 119.7 L173.7 118.9 L174.3 118.0 L174.9 117.2 L175.6 116.5 L176.2 115.9 L176.8 115.3 L177.4 114.7 L178.1 114.2 L178.7 113.7 L179.3 113.3 L180.0 112.9 L180.6 112.5 L181.2 112.2 L181.8 111.9 L182.5 111.6 L183.1 111.4 L183.7 111.1 L184.4 110.9 L185.0 110.7 L185.6 110.6 L186.2 110.4 L186.9 110.3 L187.5 110.2 L188.1 110.1 L188.7 110.0 L189.4 110.0 L190.0 109.9 L190.6 109.9 L191.3 109.9 L191.9 109.9 L192.5 109.9 L193.1 110.0 L193.8 110.0 L194.4 110.1 L195.0 110.2 L195.7 110.2 L196.3 110.3 L196.9 110.4 L197.5 110.6 L198.2 110.7 L198.8 110.8 L199.4 111.0 L200.1 111.2 L200.7 111.3 L201.3 111.5 L201.9 111.7 L202.6 111.9 L203.2 112.2 L203.8 112.4 L204.4 112.6 L205.1 112.9 L205.7 113.1 L206.3 113.4 L207.0 113.7 L207.6 114.0 L208.2 114.3 L208.8 114.6 L209.5 114.9 L210.1 115.3 L210.7 115.6 L211.4 116.0 L212.0 116.3 L212.6 116.7 L213.2 117.1 L213.9 117.5 L214.5 117.9 L215.1 118.3 L215.8 118.8 L216.4 119.2 L217.0 119.7 L217.6 120.1 L218.3 120.6 L218.9 121.1 L219.5 121.6 L220.1 122.1 L220.8 122.7 L221.4 123.2 L222.0 123.8 L222.7 124.3 L223.3 124.9 L223.9 125.5 L224.5 126.2 L225.2 126.8 L225.8 127.5 L226.4 128.1 L227.1 128.8 L227.7 129.6 L228.3 130.3 L228.9 131.1 L229.6 131.9 L230.2 132.7 L230.8 133.5 L231.5 134.4 L232.0 135.2 L232.6 136.0 L233.1 136.9 L233.7 137.7 L234.2 138.6 L234.7 139.4 L235.2 140.3 L235.7 141.2 L236.2 142.0 L236.6 142.8 L237.0 143.7 L237.5 144.6 L237.9 145.5 L238.3 146.3 L238.7 147.2 L239.1 148.0 L239.4 149.0 L239.8 149.9 L240.1 150.7 L240.4 151.5 L240.7 152.4 L241.1 153.3 L241.4 154.2 L241.7 155.2 L241.9 156.0 L242.2 156.8 L242.4 157.7 L242.7 158.6 L242.9 159.5 L243.2 160.5 L243.4 161.5 L243.7 162.5 L243.9 163.3 L244.1 164.2 L244.3 165.0 L244.5 165.9 L244.6 166.9 L244.8 167.8 L245.0 168.9 L245.2 169.9 L245.4 171.0 L245.6 172.2 L245.7 173.0 L245.8 173.9 L246.0 174.8 L246.1 175.7 L246.2 176.6 L246.3 177.6 L246.5 178.7 L246.6 179.8 L246.7 180.9 L246.8 182.1 L247.0 183.4 L247.1 184.8 L247.2 186.2 L247.3 187.8 L247.4 188.6 L247.5 189.4 L247.5 190.3 L247.6 191.2 L247.7 192.2 L247.7 193.2 L247.8 194.2 L247.8 195.3 L247.9 196.5 L248.0 197.7 L248.0 199.0 L248.1 200.4 L248.2 201.9 L248.2 203.5 L248.3 205.2 L248.3 207.1 L248.4 209.1 L248.5 211.4 L248.5 213.9 L248.6 216.7 L248.7 220.1 L248.7 224.0 L248.8 228.8 L248.8 235.0 L248.9 242.0 L249.2 233.8 L249.3 228.0 L249.4 223.4 L249.4 219.6 L249.5 216.5 L249.5 213.7 L249.6 211.3 L249.7 209.1 L249.7 207.1 L249.8 205.3 L249.9 203.7 L249.9 202.2 L250.0 200.8 L250.0 199.4 L250.1 198.2 L250.2 197.0 L250.2 195.9 L250.3 194.8 L250.4 193.8 L250.4 192.9 L250.5 192.0 L250.5 191.1 L250.6 190.3 L250.7 189.5 L250.8 188.0 L250.9 186.6 L251.0 185.3 L251.2 184.0 L251.3 182.9 L251.4 181.8 L251.5 180.7 L251.7 179.8 L251.8 178.8 L251.9 177.9 L252.1 177.1 L252.2 176.3 L252.4 175.1 L252.6 174.0 L252.7 173.0 L252.9 172.0 L253.1 171.1 L253.3 170.2 L253.5 169.4 L253.7 168.6 L253.9 167.6 L254.2 166.6 L254.4 165.7 L254.7 164.8 L254.9 164.0 L255.3 163.0 L255.6 162.1 L255.9 161.2 L256.2 160.4 L256.6 159.5 L257.0 158.6 L257.3 157.7 L257.8 156.8 L258.2 155.9 L258.6 155.1 L259.1 154.2 L259.7 153.4 L260.2 152.6 L260.8 151.7 L261.4 150.9 L262.0 150.1 L262.7 149.4 L263.3 148.7 L263.9 148.0 L264.5 147.4 L265.2 146.8 L265.8 146.3 L266.4 145.8 L267.1 145.3 L267.7 144.9 L268.3 144.4 L268.9 144.0 L269.6 143.7 L270.2 143.3 L270.8 143.0 L271.5 142.7 L272.1 142.4 L272.7 142.1 L273.3 141.8 L274.0 141.6 L274.6 141.3 L275.2 141.1 L275.9 140.9 L276.5 140.7 L277.1 140.6 L277.7 140.4 L278.4 140.3 L279.0 140.1 L279.6 140.0 L280.2 139.9 L280.9 139.8 L281.5 139.7 L282.1 139.6 L282.8 139.6 L283.4 139.5 L284.0 139.4 L284.6 139.4 L285.3 139.4 L285.9 139.3 L286.5 139.3 L287.2 139.3 L287.8 139.3 L288.4 139.3 L289.0 139.3 L289.7 139.4 L290.3 139.4 L290.9 139.4 L291.6 139.5 L292.2 139.5 L292.8 139.6 L293.4 139.7 L294.1 139.7 L294.7 139.8 L295.3 139.9 L295.9 140.0 L296.6 140.1 L297.2 140.2 L297.8 140.3 L298.5 140.4 L299.1 140.6 L299.7 140.7 L300.3 140.8 L301.0 141.0 L301.6 141.1 L302.2 141.3 L302.9 141.5 L303.5 141.6 L304.1 141.8 L304.7 142.0 L305.4 142.2 L306.0 142.4 L306.6 142.6 L307.3 142.8 L307.9 143.0 L308.5 143.2 L309.1 143.4 L309.8 143.7 L310.4 143.9 L311.0 144.1 L311.6 144.4 L312.3 144.6 L312.9 144.9 L313.5 145.2 L314.2 145.4 L314.8 145.7 L315.4 146.0 L316.0 146.3 L316.7 146.6 L317.3 146.9 L317.9 147.2 L318.6 147.5 L319.2 147.8 L319.8 148.2 L320.4 148.5 L321.1 148.9 L321.7 149.2 L322.3 149.6 L323.0 149.9 L323.6 150.3 L324.2 150.7 L324.8 151.1 L325.5 151.5 L326.1 151.9 L326.7 152.3 L327.3 152.7 L328.0 153.1 L328.6 153.6 L329.2 154.0 L329.9 154.5 L330.5 155.0 L331.1 155.4 L331.7 155.9 L332.4 156.4 L333.0 156.9 L333.6 157.4 L334.3 158.0 L334.9 158.5 L335.5 159.0 L336.1 159.6 L336.8 160.2 L337.4 160.8 L338.0 161.4 L338.7 162.0 L339.3 162.6 L339.9 163.3 L340.5 164.0 L341.2 164.6 L341.8 165.3 L342.4 166.1 L343.0 166.8 L343.7 167.6 L344.3 168.3 L344.9 169.2 L345.6 170.0 L346.2 170.8 L346.8 171.7 L347.4 172.6 L347.9 173.4 L348.5 174.3 L349.0 175.1 L349.5 175.9 L350.0 176.8 L350.5 177.7 L351.0 178.5 L351.4 179.3 L351.8 180.2 L352.3 181.1 L352.7 182.0 L353.1 182.8 L353.5 183.7 L353.9 184.6 L354.2 185.5 L354.6 186.4 L354.9 187.2 L355.2 188.1 L355.5 188.9 L355.9 189.8 L356.2 190.8 L356.5 191.7 L356.7 192.5 L357.0 193.4 L357.2 194.2 L357.5 195.1 L357.7 196.1 L358.0 197.0 L358.2 198.1 L358.5 199.1 L358.7 199.9 L358.9 200.8 L359.1 201.7 L359.3 202.6 L359.4 203.6 L359.6 204.6 L359.8 205.6 L360.0 206.7 L360.2 207.9 L360.3 208.7 L360.4 209.5 L360.6 210.4 L360.7 211.3 L360.8 212.2 L360.9 213.2 L361.1 214.2 L361.2 215.3 L361.3 216.4 L361.4 217.6 L361.6 218.9 L361.7 220.2 L361.8 221.6 L362.0 223.1 L362.1 224.8 L362.1 225.6 L362.2 226.5 L362.3 227.5 L362.3 228.4 L362.4 229.5 L362.5 230.5 L362.5 231.7 L362.6 232.9 L362.6 234.1 L362.7 235.5 L362.8 236.9 L362.8 238.4 L362.9 240.1 L363.0 241.9 L364.3 242.0 L364.5 240.1 L364.5 238.5 L364.6 237.0 L364.7 235.6 L364.7 234.3 L364.8 233.1 L364.8 232.0 L364.9 230.9 L365.0 229.9 L365.0 228.9 L365.1 228.0 L365.2 227.1 L365.2 226.2 L365.3 225.4 L365.4 223.9 L365.5 222.4 L365.7 221.1 L365.8 219.8 L365.9 218.6 L366.0 217.5 L366.2 216.5 L366.3 215.5 L366.4 214.5 L366.5 213.6 L366.7 212.7 L366.8 211.9 L367.0 210.7 L367.2 209.6 L367.4 208.6 L367.5 207.6 L367.7 206.6 L367.9 205.7 L368.1 204.9 L368.3 204.0 L368.5 203.0 L368.8 202.0 L369.0 201.1 L369.3 200.2 L369.6 199.3 L369.8 198.5 L370.1 197.6 L370.4 196.7 L370.7 195.8 L371.1 195.0 L371.4 194.0 L371.8 193.2 L372.2 192.3 L372.6 191.4 L373.1 190.5 L373.5 189.7 L374.0 188.8 L374.5 187.9 L375.1 187.0 L375.6 186.2 L376.3 185.3 L376.9 184.5 L377.5 183.7 L378.2 183.0 L378.8 182.3 L379.4 181.6 L380.0 181.0 L380.7 180.4 L381.3 179.9 L381.9 179.3 L382.5 178.8 L383.2 178.4 L383.8 177.9 L384.4 177.5 L385.1 177.1 L385.7 176.7 L386.3 176.3 L386.9 175.9 L387.6 175.6 L388.2 175.3 L388.8 175.0 L389.5 174.7 L390.1 174.4 L390.4 174.3" stroke="#ff8000" clip-path="url(#cXe)"/>
<path d="M76.4 19.7 L76.7 20.6 L77.0 21.5 L77.3 22.4 L77.7 23.3 L78.0 24.2 L78.3 25.1 L78.6 26.0 L78.9 27.0 L79.2 27.9 L79.5 28.9 L79.9 29.9 L80.2 30.9 L80.4 31.7 L80.7 32.5 L80.9 33.3 L81.2 34.2 L81.4 35.0 L81.7 35.9 L81.9 36.7 L82.2 37.6 L82.4 38.5 L82.7 39.4 L82.9 40.3 L83.2 41.3 L83.4 42.2 L83.7 43.2 L83.9 44.1 L84.2 45.1 L84.4 46.1 L84.7 47.2 L84.9 48.2 L85.1 49.0 L85.3 49.8 L85.5 50.7 L85.7 51.5 L85.9 52.4 L86.1 53.2 L86.3 54.1 L86.4 55.0 L86.6 55.9 L86.8 56.9 L87.0 57.8 L87.2 58.8 L87.4 59.8 L87.6 60.8 L87.8 61.9 L88.0 62.9 L88.1 64.0 L88.3 65.2 L88.5 66.3 L88.7 67.5 L88.8 68.4 L89.0 69.2 L89.1 70.1 L89.2 70.9 L89.3 71.8 L89.5 72.8 L89.6 73.7 L89.7 74.7 L89.8 75.7 L90.0 76.8 L90.1 77.8 L90.2 78.9 L90.3 80.1 L90.5 81.3 L90.6 82.5 L90.7 83.8 L90.8 85.2 L91.0 86.6 L91.1 88.1 L91.2 89.6 L91.3 90.5 L91.3 91.3 L91.4 92.2 L91.5 93.1 L91.5 94.0 L91.6 95.0 L91.7 96.0 L91.7 97.0 L91.8 98.1 L91.8 99.2 L91.9 100.4 L92.0 101.6 L92.0 103.0 L92.1 104.3 L92.2 105.8 L92.2 107.3 L92.3 109.0 L92.4 110.8 L92.4 112.7 L92.5 114.8 L92.5 117.0 L92.6 119.6 L92.7 122.5 L92.7 125.7 L92.8 129.6 L92.9 134.2 L92.9 140.1 L93.0 148.2 L93.0 161.4 L93.1 179.1 L93.1 193.7 L93.1 203.3 L93.1 213.0 L93.1 227.6 L93.1 242.0 L93.1 227.6 L93.1 213.1 L93.1 193.8 L93.1 179.3 L93.2 168.4 L93.2 152.0 L93.3 143.0 L93.4 136.8 L93.4 132.0 L93.5 128.2 L93.5 125.0 L93.6 122.2 L93.7 119.8 L93.7 117.7 L93.8 115.8 L93.9 114.0 L93.9 112.4 L94.0 111.0 L94.0 109.6 L94.1 108.4 L94.2 107.2 L94.2 106.1 L94.3 105.1 L94.4 104.1 L94.4 103.2 L94.5 102.3 L94.5 101.5 L94.7 100.0 L94.8 98.6 L94.9 97.3 L95.1 96.1 L95.2 95.0 L95.3 94.0 L95.4 93.1 L95.6 92.2 L95.7 91.4 L95.9 90.3 L96.1 89.2 L96.2 88.3 L96.4 87.4 L96.6 86.6 L96.9 85.6 L97.1 84.7 L97.4 83.8 L97.8 82.9 L98.1 82.0 L98.6 81.1 L99.1 80.2 L99.7 79.4 L100.3 78.7 L101.0 78.3 L101.6 77.9 L102.2 77.7 L102.8 77.7 L103.5 77.7 L104.1 77.8 L104.7 78.1 L105.4 78.4 L106.0 78.8 L106.6 79.2 L107.2 79.7 L107.9 80.3 L108.5 81.0 L109.1 81.7 L109.7 82.5 L110.4 83.4 L110.9 84.2 L111.5 85.1 L112.0 85.9 L112.5 86.8 L112.9 87.6 L113.4 88.4 L113.8 89.3 L114.3 90.2 L114.6 91.0 L115.0 91.9 L115.4 92.8 L115.8 93.7 L116.2 94.6 L116.5 95.5 L116.8 96.3 L117.1 97.2 L117.4 98.1 L117.7 99.1 L118.0 100.0 L118.3 100.9 L118.5 101.7 L118.8 102.6 L119.0 103.5 L119.3 104.4 L119.5 105.4 L119.8 106.4 L120.0 107.4 L120.2 108.2 L120.4 109.0 L120.6 109.9 L120.8 110.8 L121.0 111.7 L121.2 112.7 L121.4 113.7 L121.6 114.7 L121.7 115.8 L121.9 116.9 L122.1 118.0 L122.2 118.9 L122.4 119.7 L122.5 120.6 L122.6 121.5 L122.7 122.4 L122.9 123.4 L123.0 124.4 L123.1 125.4 L123.2 126.5 L123.4 127.6 L123.5 128.8 L123.6 130.1 L123.8 131.5 L123.9 132.9 L124.0 134.4 L124.1 136.0 L124.2 136.8 L124.3 137.7 L124.3 138.6 L124.4 139.6 L124.4 140.6 L124.5 141.6 L124.6 142.7 L124.6 143.8 L124.7 145.0 L124.8 146.3 L124.8 147.6 L124.9 149.1 L124.9 150.6 L125.0 152.2 L125.1 154.0 L125.1 155.9 L125.2 158.0 L125.3 160.4 L125.3 163.0 L125.4 165.9 L125.4 169.4 L125.5 173.5 L125.6 178.5 L125.6 185.2 L125.7 194.9 L125.8 213.5 L125.8 220.8 L125.8 235.4 L125.8 242.0 L125.8 235.4 L125.8 232.2 L125.8 220.9 L125.9 201.0 L125.9 189.0 L126.0 181.4 L126.1 175.9 L126.1 171.5 L126.2 167.9 L126.3 164.9 L126.3 162.2 L126.4 159.9 L126.5 157.8 L126.5 155.9 L126.6 154.1 L126.6 152.5 L126.7 151.1 L126.8 149.7 L126.8 148.4 L126.9 147.2 L127.0 146.1 L127.0 145.0 L127.1 144.0 L127.1 143.0 L127.2 142.1 L127.3 141.3 L127.3 140.4 L127.5 138.9 L127.6 137.4 L127.7 136.1 L127.8 134.9 L128.0 133.7 L128.1 132.6 L128.2 131.6 L128.3 130.6 L128.5 129.7 L128.6 128.9 L128.7 128.0 L128.9 126.9 L129.1 125.8 L129.3 124.8 L129.5 123.8 L129.7 123.0 L129.8 122.1 L130.1 121.1 L130.3 120.1 L130.6 119.2 L130.8 118.4 L131.2 117.4 L131.5 116.5 L131.8 115.6 L132.2 114.7 L132.5 113.9 L133.0 113.0 L133.4 112.1 L133.9 111.3 L134.5 110.5 L135.1 109.6 L135.7 108.9 L136.4 108.3 L137.0 107.8 L137.6 107.3 L138.3 107.0 L138.9 106.6 L139.5 106.4 L140.1 106.2 L140.8 106.0 L141.4 105.9 L142.0 105.9 L142.7 105.9 L143.3 105.9 L143.9 106.0 L144.5 106.1 L145.2 106.2 L145.8 106.4 L146.4 106.6 L147.1 106.9 L147.7 107.2 L148.3 107.5 L148.9 107.8 L149.6 108.2 L150.2 108.6 L150.8 109.1 L151.4 109.6 L152.1 110.1 L152.7 110.6 L153.3 111.2 L154.0 111.8 L154.6 112.5 L155.2 113.1 L155.8 113.8 L156.5 114.6 L157.1 115.4 L157.7 116.2 L158.4 117.1 L158.9 117.9 L159.5 118.7 L160.0 119.6 L160.6 120.4 L161.1 121.3 L161.6 122.2 L162.0 123.0 L162.4 123.8 L162.9 124.7 L163.3 125.6 L163.7 126.4 L164.1 127.2 L164.4 128.1 L164.8 129.0 L165.2 129.9 L165.6 130.8 L165.9 131.7 L166.2 132.5 L166.5 133.4 L166.8 134.3 L167.1 135.3 L167.5 136.3 L167.7 137.1 L168.0 137.9 L168.2 138.8 L168.5 139.7 L168.7 140.7 L169.0 141.6 L169.2 142.7 L169.5 143.7 L169.7 144.5 L169.8 145.4 L170.0 146.3 L170.2 147.2 L170.4 148.2 L170.6 149.2 L170.8 150.2 L171.0 151.3 L171.2 152.4 L171.4 153.6 L171.5 154.4 L171.6 155.3 L171.7 156.2 L171.9 157.1 L172.0 158.1 L172.1 159.1 L172.2 160.1 L172.4 161.2 L172.5 162.4 L172.6 163.6 L172.7 164.9 L172.9 166.2 L173.0 167.7 L173.1 169.2 L173.2 170.0 L173.2 170.9 L173.3 171.8 L173.4 172.7 L173.4 173.6 L173.5 174.6 L173.6 175.6 L173.6 176.7 L173.7 177.9 L173.7 179.1 L173.8 180.4 L173.9 181.7 L173.9 183.2 L174.0 184.7 L174.1 186.4 L174.1 188.2 L174.2 190.1 L174.2 192.3 L174.3 194.7 L174.4 197.4 L174.4 200.5 L174.5 204.1 L174.6 208.5 L174.6 214.0 L174.7 221.5 L174.7 233.0 L174.8 242.0 L174.9 229.3 L175.0 219.3 L175.1 212.6 L175.1 207.5 L175.2 203.5 L175.2 200.1 L175.3 197.1 L175.4 194.6 L175.4 192.3 L175.5 190.3 L175.6 188.4 L175.6 186.7 L175.7 185.1 L175.7 183.7 L175.8 182.3 L175.9 181.1 L175.9 179.9 L176.0 178.7 L176.1 177.7 L176.1 176.7 L176.2 175.7 L176.3 174.8 L176.3 173.9 L176.4 173.1 L176.4 172.3 L176.6 170.8 L176.7 169.4 L176.8 168.1 L176.9 166.8 L177.1 165.7 L177.2 164.6 L177.3 163.6 L177.4 162.6 L177.6 161.7 L177.7 160.8 L177.8 160.0 L178.0 158.8 L178.2 157.7 L178.4 156.7 L178.6 155.7 L178.8 154.8 L179.0 153.9 L179.1 153.1 L179.4 152.0 L179.6 151.1 L179.9 150.1 L180.1 149.3 L180.4 148.5 L180.7 147.5 L181.0 146.6 L181.3 145.7 L181.7 144.8 L182.1 143.9 L182.5 143.1 L182.9 142.2 L183.3 141.4 L183.9 140.5 L184.4 139.7 L184.9 138.9 L185.5 138.0 L186.2 137.3 L186.8 136.6 L187.4 136.0 L188.1 135.4 L188.7 134.9 L189.3 134.4 L189.9 134.0 L190.6 133.7 L191.2 133.3 L191.8 133.1 L192.5 132.8 L193.1 132.6 L193.7 132.4 L194.3 132.2 L195.0 132.1 L195.6 132.0 L196.2 131.9 L196.9 131.9 L197.5 131.9 L198.1 131.9 L198.7 131.9 L199.4 131.9 L200.0 132.0 L200.6 132.1 L201.2 132.2 L201.9 132.3 L202.5 132.5 L203.1 132.7 L203.8 132.9 L204.4 133.1 L205.0 133.3 L205.6 133.6 L206.3 133.8 L206.9 134.1 L207.5 134.4 L208.2 134.7 L208.8 135.1 L209.4 135.4 L210.0 135.8 L210.7 136.2 L211.3 136.6 L211.9 137.1 L212.6 137.5 L213.2 138.0 L213.8 138.5 L214.4 139.0 L215.1 139.5 L215.7 140.1 L216.3 140.6 L216.9 141.2 L217.6 141.9 L218.2 142.5 L218.8 143.2 L219.5 143.9 L220.1 144.6 L220.7 145.3 L221.3 146.1 L222.0 146.9 L222.6 147.7 L223.2 148.6 L223.8 149.4 L224.4 150.3 L224.9 151.1 L225.4 151.9 L225.9 152.8 L226.4 153.6 L226.9 154.5 L227.4 155.3 L227.8 156.2 L228.3 157.1 L228.7 157.9 L229.1 158.9 L229.5 159.7 L229.9 160.6 L230.3 161.4 L230.6 162.4 L231.0 163.3 L231.3 164.1 L231.6 165.0 L232.0 165.9 L232.3 166.8 L232.6 167.7 L232.9 168.7 L233.1 169.5 L233.4 170.4 L233.7 171.2 L233.9 172.1 L234.2 173.1 L234.4 174.0 L234.7 175.1 L234.9 176.1 L235.1 176.9 L235.3 177.8 L235.5 178.7 L235.7 179.6 L235.8 180.6 L236.0 181.6 L236.2 182.6 L236.4 183.7 L236.6 184.8 L236.8 186.0 L236.9 186.9 L237.0 187.7 L237.2 188.6 L237.3 189.6 L237.4 190.5 L237.5 191.6 L237.7 192.6 L237.8 193.7 L237.9 194.9 L238.0 196.2 L238.2 197.5 L238.3 198.9 L238.4 200.4 L238.5 202.0 L238.6 202.8 L238.7 203.7 L238.7 204.6 L238.8 205.5 L238.9 206.5 L238.9 207.6 L239.0 208.7 L239.1 209.8 L239.1 211.0 L239.2 212.3 L239.2 213.7 L239.3 215.1 L239.4 216.7 L239.4 218.4 L239.5 220.2 L239.6 222.2 L239.6 224.4 L239.7 226.8 L239.7 229.6 L239.8 232.7 L239.9 236.4 L239.9 240.9 L240.0 242.0 L240.5 238.4 L240.6 234.5 L240.6 231.1 L240.7 228.3 L240.7 225.8 L240.8 223.5 L240.9 221.5 L240.9 219.7 L241.0 218.0 L241.1 216.4 L241.1 215.0 L241.2 213.6 L241.2 212.4 L241.3 211.2 L241.4 210.1 L241.4 209.0 L241.5 208.0 L241.6 207.0 L241.6 206.1 L241.7 205.2 L241.8 204.4 L241.8 203.6 L241.9 202.1 L242.1 200.7 L242.2 199.4 L242.3 198.1 L242.4 197.0 L242.6 195.9 L242.7 194.9 L242.8 193.9 L242.9 192.9 L243.1 192.1 L243.2 191.2 L243.3 190.4 L243.5 189.3 L243.7 188.2 L243.9 187.2 L244.1 186.2 L244.3 185.3 L244.5 184.4 L244.6 183.6 L244.9 182.6 L245.1 181.6 L245.4 180.6 L245.6 179.8 L245.9 178.9 L246.2 178.0 L246.5 177.0 L246.8 176.2 L247.2 175.4 L247.5 174.4 L247.9 173.6 L248.3 172.7 L248.7 171.8 L249.2 171.0 L249.7 170.1 L250.2 169.3 L250.7 168.4 L251.3 167.6 L251.9 166.8 L252.6 166.0 L253.2 165.3 L253.8 164.7 L254.4 164.1 L255.1 163.5 L255.7 163.0 L256.3 162.6 L257.0 162.1 L257.6 161.7 L258.2 161.4 L258.8 161.0 L259.5 160.7 L260.1 160.4 L260.7 160.2 L261.3 159.9 L262.0 159.7 L262.6 159.5 L263.2 159.4 L263.9 159.2 L264.5 159.1 L265.1 159.0 L265.7 158.9 L266.4 158.8 L267.0 158.8 L267.6 158.7 L268.3 158.7 L268.9 158.7 L269.5 158.7 L270.1 158.8 L270.8 158.8 L271.4 158.8 L272.0 158.9 L272.6 159.0 L273.3 159.1 L273.9 159.2 L274.5 159.3 L275.2 159.4 L275.8 159.6 L276.4 159.8 L277.0 159.9 L277.7 160.1 L278.3 160.3 L278.9 160.5 L279.6 160.7 L280.2 161.0 L280.8 161.2 L281.4 161.5 L282.1 161.7 L282.7 162.0 L283.3 162.3 L284.0 162.6 L284.6 162.9 L285.2 163.2 L285.8 163.6 L286.5 163.9 L287.1 164.3 L287.7 164.7 L288.4 165.1 L289.0 165.5 L289.6 165.9 L290.2 166.3 L290.9 166.8 L291.5 167.2 L292.1 167.7 L292.7 168.2 L293.4 168.7 L294.0 169.2 L294.6 169.7 L295.3 170.3 L295.9 170.8 L296.5 171.4 L297.1 172.0 L297.8 172.6 L298.4 173.2 L299.0 173.9 L299.7 174.6 L300.3 175.3 L300.9 176.0 L301.5 176.7 L302.2 177.5 L302.8 178.3 L303.4 179.1 L304.1 179.9 L304.7 180.8 L305.2 181.6 L305.8 182.5 L306.4 183.3 L306.9 184.2 L307.4 185.0 L307.9 185.9 L308.4 186.8 L308.9 187.6 L309.3 188.4 L309.8 189.3 L310.2 190.1 L310.6 191.1 L311.0 191.9 L311.4 192.7 L311.8 193.6 L312.2 194.5 L312.5 195.4 L312.8 196.2 L313.2 197.0 L313.5 197.9 L313.8 198.8 L314.1 199.7 L314.4 200.6 L314.7 201.6 L315.0 202.4 L315.2 203.3 L315.5 204.2 L315.7 205.1 L316.0 206.0 L316.2 207.0 L316.5 208.0 L316.7 208.9 L316.9 209.7 L317.0 210.5 L317.2 211.4 L317.4 212.4 L317.6 213.3 L317.8 214.3 L318.0 215.4 L318.2 216.5 L318.4 217.6 L318.5 218.4 L318.6 219.2 L318.7 220.1 L318.9 221.0 L319.0 221.9 L319.1 222.9 L319.2 223.9 L319.4 225.0 L319.5 226.1 L319.6 227.3 L319.8 228.5 L319.9 229.8 L320.0 231.2 L320.1 232.7 L320.3 234.2 L320.3 235.1 L320.4 236.0 L320.4 236.9 L320.5 237.8 L320.6 238.8 L320.6 239.8 L320.7 240.9 L320.8 242.0 L323.1 242.0 L323.2 240.2 L323.3 239.2 L323.3 238.3 L323.4 237.4 L323.5 236.6 L323.5 235.8 L323.6 234.2 L323.8 232.8 L323.9 231.5 L324.0 230.3 L324.1 229.1 L324.3 228.0 L324.4 227.0 L324.5 226.0 L324.6 225.0 L324.8 224.2 L324.9 223.3 L325.0 222.5 L325.2 221.3 L325.4 220.2 L325.6 219.2 L325.8 218.2 L326.0 217.3 L326.2 216.4 L326.3 215.6 L326.5 214.8 L326.8 213.8 L327.0 212.8 L327.3 211.9 L327.5 211.0 L327.8 210.2 L328.1 209.3 L328.4 208.3 L328.7 207.5 L329.0 206.7 L329.4 205.7 L329.8 204.9 L330.2 204.0 L330.6 203.1 L331.1 202.3 L331.5 201.5 L332.0 200.6 L332.5 199.8 L333.1 199.0 L333.7 198.1 L334.3 197.3 L334.9 196.5 L335.6 195.8 L336.2 195.2 L336.8 194.5 L337.5 194.0 L338.1 193.4 L338.7 192.9 L339.3 192.5 L340.0 192.0 L340.6 191.6 L341.2 191.2 L341.9 190.9 L342.5 190.5 L343.1 190.2 L343.7 189.9 L344.4 189.7 L345.0 189.4 L345.6 189.2 L346.3 189.0 L346.9 188.8 L347.5 188.6 L348.1 188.5 L348.8 188.3 L349.4 188.2 L350.0 188.1 L350.6 188.0 L351.3 187.9 L351.9 187.8 L352.5 187.7 L353.2 187.7 L353.8 187.6 L354.4 187.6 L355.0 187.6 L355.7 187.6 L356.3 187.6 L356.9 187.6 L357.6 187.6 L358.2 187.7 L358.8 187.7 L359.4 187.8 L360.1 187.8 L360.7 187.9 L361.3 188.0 L362.0 188.1 L362.6 188.2 L363.2 188.3 L363.8 188.4 L364.5 188.6 L365.1 188.7 L365.7 188.8 L366.3 189.0 L367.0 189.2 L367.6 189.3 L368.2 189.5 L368.9 189.7 L369.5 189.9 L370.1 190.1 L370.7 190.3 L371.4 190.6 L372.0 190.8 L372.6 191.0 L373.3 191.3 L373.9 191.5 L374.5 191.8 L375.1 192.1 L375.8 192.4 L376.4 192.7 L377.0 193.0 L377.7 193.3 L378.3 193.6 L378.9 193.9 L379.5 194.2 L380.2 194.6 L380.8 194.9 L381.4 195.3 L382.0 195.7 L382.7 196.1 L383.3 196.4 L383.9 196.8 L384.6 197.3 L385.2 197.7 L385.8 198.1 L386.4 198.5 L387.1 199.0 L387.7 199.5 L388.3 199.9 L389.0 200.4 L389.6 200.9 L390.2 201.4 L390.4 201.6" stroke="#aaaa00" clip-path="url(#cW)"/>
</g>
<g font-size="14">
<rect x="160.5" y="22.9" width="19.6" height="15.0" fill="#fff"/>
<text x="170.4" y="34.9" text-anchor="middle" fill="#0000ff">Na</text>
<rect x="360.4" y="38.4" width="9.8" height="15.0" fill="#fff"/>
<text x="365.6" y="50.4" text-anchor="middle" fill="#00a000">F</text>
<rect x="209.5" y="56.7" width="15.9" height="15.0" fill="#fff"/>
<text x="217.3" y="68.7" text-anchor="middle" fill="#800080">Ar</text>
<rect x="235.6" y="87.6" width="20.4" height="15.0" fill="#fff"/>
<text x="246.0" y="99.6" text-anchor="middle" fill="#ff0000">Ge</text>
<rect x="192.6" y="104.5" width="18.5" height="15.0" fill="#fff"/>
<text x="201.8" y="116.5" text-anchor="middle" fill="#ff8000">Xe</text>
<rect x="267.1" y="152.0" width="14.8" height="15.0" fill="#fff"/>
<text x="274.5" y="164.0" text-anchor="middle" fill="#aaaa00">W</text>
</g>
<g fill="none" stroke="#555" stroke-width="0.9">
<path d="M76.40 237.50 v-4.60 M76.40 8.05 v4.60 M92.10 237.50 v-2.80 M92.10 8.05 v2.80 M107.80 237.50 v-2.80 M107.80 8.05 v2.80 M123.50 237.50 v-2.80 M123.50 8.05 v2.80 M139.20 237.50 v-4.60 M139.20 8.05 v4.60 M154.90 237.50 v-2.80 M154.90 8.05 v2.80 M170.60 237.50 v-2.80 M170.60 8.05 v2.80 M186.30 237.50 v-2.80 M186.30 8.05 v2.80 M202.00 237.50 v-4.60 M202.00 8.05 v4.60 M217.70 237.50 v-2.80 M217.70 8.05 v2.80 M233.40 237.50 v-2.80 M233.40 8.05 v2.80 M249.10 237.50 v-2.80 M249.10 8.05 v2.80 M264.80 237.50 v-4.60 M264.80 8.05 v4.60 M280.50 237.50 v-2.80 M280.50 8.05 v2.80 M296.20 237.50 v-2.80 M296.20 8.05 v2.80 M311.90 237.50 v-2.80 M311.90 8.05 v2.80 M327.60 237.50 v-4.60 M327.60 8.05 v4.60 M343.30 237.50 v-2.80 M343.30 8.05 v2.80 M359.00 237.50 v-2.80 M359.00 8.05 v2.80 M374.70 237.50 v-2.80 M374.70 8.05 v2.80 M390.40 237.50 v-4.60 M390.40 8.05 v4.60"/>
<path d="M69.50 213.30 h4.5 M397.30 213.30 h-5 M69.50 189.10 h4.5 M397.30 189.10 h-5 M69.50 164.90 h4.5 M397.30 164.90 h-5 M69.50 140.70 h4.5 M397.30 140.70 h-5 M69.50 116.50 h4.5 M397.30 116.50 h-5 M69.50 92.30 h4.5 M397.30 92.30 h-5 M69.50 68.10 h4.5 M397.30 68.10 h-5 M69.50 43.90 h4.5 M397.30 43.90 h-5 M69.50 19.70 h4.5 M397.30 19.70 h-5"/>
<path d="M69.50 230.22 h4.5 M397.30 230.22 h-5 M69.50 225.95 h4.5 M397.30 225.95 h-5 M69.50 222.93 h4.5 M397.30 222.93 h-5 M69.50 220.58 h4.5 M397.30 220.58 h-5 M69.50 218.67 h4.5 M397.30 218.67 h-5 M69.50 217.05 h4.5 M397.30 217.05 h-5 M69.50 215.65 h4.5 M397.30 215.65 h-5 M69.50 214.41 h4.5 M397.30 214.41 h-5 M69.50 206.02 h4.5 M397.30 206.02 h-5 M69.50 201.75 h4.5 M397.30 201.75 h-5 M69.50 198.73 h4.5 M397.30 198.73 h-5 M69.50 196.38 h4.5 M397.30 196.38 h-5 M69.50 194.47 h4.5 M397.30 194.47 h-5 M69.50 192.85 h4.5 M397.30 192.85 h-5 M69.50 191.45 h4.5 M397.30 191.45 h-5 M69.50 190.21 h4.5 M397.30 190.21 h-5 M69.50 181.82 h4.5 M397.30 181.82 h-5 M69.50 177.55 h4.5 M397.30 177.55 h-5 M69.50 174.53 h4.5 M397.30 174.53 h-5 M69.50 172.18 h4.5 M397.30 172.18 h-5 M69.50 170.27 h4.5 M397.30 170.27 h-5 M69.50 168.65 h4.5 M397.30 168.65 h-5 M69.50 167.25 h4.5 M397.30 167.25 h-5 M69.50 166.01 h4.5 M397.30 166.01 h-5 M69.50 157.62 h4.5 M397.30 157.62 h-5 M69.50 153.35 h4.5 M397.30 153.35 h-5 M69.50 150.33 h4.5 M397.30 150.33 h-5 M69.50 147.98 h4.5 M397.30 147.98 h-5 M69.50 146.07 h4.5 M397.30 146.07 h-5 M69.50 144.45 h4.5 M397.30 144.45 h-5 M69.50 143.05 h4.5 M397.30 143.05 h-5 M69.50 141.81 h4.5 M397.30 141.81 h-5 M69.50 133.42 h4.5 M397.30 133.42 h-5 M69.50 129.15 h4.5 M397.30 129.15 h-5 M69.50 126.13 h4.5 M397.30 126.13 h-5 M69.50 123.78 h4.5 M397.30 123.78 h-5 M69.50 121.87 h4.5 M397.30 121.87 h-5 M69.50 120.25 h4.5 M397.30 120.25 h-5 M69.50 118.85 h4.5 M397.30 118.85 h-5 M69.50 117.61 h4.5 M397.30 117.61 h-5 M69.50 109.22 h4.5 M397.30 109.22 h-5 M69.50 104.95 h4.5 M397.30 104.95 h-5 M69.50 101.93 h4.5 M397.30 101.93 h-5 M69.50 99.58 h4.5 M397.30 99.58 h-5 M69.50 97.67 h4.5 M397.30 97.67 h-5 M69.50 96.05 h4.5 M397.30 96.05 h-5 M69.50 94.65 h4.5 M397.30 94.65 h-5 M69.50 93.41 h4.5 M397.30 93.41 h-5 M69.50 85.02 h4.5 M397.30 85.02 h-5 M69.50 80.75 h4.5 M397.30 80.75 h-5 M69.50 77.73 h4.5 M397.30 77.73 h-5 M69.50 75.38 h4.5 M397.30 75.38 h-5 M69.50 73.47 h4.5 M397.30 73.47 h-5 M69.50 71.85 h4.5 M397.30 71.85 h-5 M69.50 70.45 h4.5 M397.30 70.45 h-5 M69.50 69.21 h4.5 M397.30 69.21 h-5 M69.50 60.82 h4.5 M397.30 60.82 h-5 M69.50 56.55 h4.5 M397.30 56.55 h-5 M69.50 53.53 h4.5 M397.30 53.53 h-5 M69.50 51.18 h4.5 M397.30 51.18 h-5 M69.50 49.27 h4.5 M397.30 49.27 h-5 M69.50 47.65 h4.5 M397.30 47.65 h-5 M69.50 46.25 h4.5 M397.30 46.25 h-5 M69.50 45.01 h4.5 M397.30 45.01 h-5 M69.50 36.62 h4.5 M397.30 36.62 h-5 M69.50 32.35 h4.5 M397.30 32.35 h-5 M69.50 29.33 h4.5 M397.30 29.33 h-5 M69.50 26.98 h4.5 M397.30 26.98 h-5 M69.50 25.07 h4.5 M397.30 25.07 h-5 M69.50 23.45 h4.5 M397.30 23.45 h-5 M69.50 22.05 h4.5 M397.30 22.05 h-5 M69.50 20.81 h4.5 M397.30 20.81 h-5 M69.50 12.42 h4.5 M397.30 12.42 h-5 M69.50 8.15 h4.5 M397.30 8.15 h-5" stroke="#666" stroke-width="0.8"/>
<path d="M397.3 8.05 H69.5 V237.5 H397.3"/>
<path d="M397.3 8.05 V237.5" stroke="#999"/>
</g>
<g font-size="13.8" fill="#000" text-anchor="middle">
<text x="76.4" y="255.3">0</text>
<text x="139.2" y="255.3">200</text>
<text x="202.0" y="255.3">400</text>
<text x="264.8" y="255.3">600</text>
<text x="327.6" y="255.3">800</text>
<text x="390.6" y="255.3">1000</text>
</g>
<g fill="#000">
<text x="63.3" y="24.95" font-size="13.8" text-anchor="end">1</text>
<text x="36.3" y="50.60" font-size="13.8">10</text><text x="52.3" y="44.70" font-size="10">−1</text>
<text x="36.3" y="74.80" font-size="13.8">10</text><text x="52.3" y="68.90" font-size="10">−2</text>
<text x="36.3" y="99.00" font-size="13.8">10</text><text x="52.3" y="93.10" font-size="10">−3</text>
<text x="36.3" y="123.20" font-size="13.8">10</text><text x="52.3" y="117.30" font-size="10">−4</text>
<text x="36.3" y="147.40" font-size="13.8">10</text><text x="52.3" y="141.50" font-size="10">−5</text>
<text x="36.3" y="171.60" font-size="13.8">10</text><text x="52.3" y="165.70" font-size="10">−6</text>
<text x="36.3" y="195.80" font-size="13.8">10</text><text x="52.3" y="189.90" font-size="10">−7</text>
<text x="36.3" y="220.00" font-size="13.8">10</text><text x="52.3" y="214.10" font-size="10">−8</text>
<text x="36.3" y="244.20" font-size="13.8">10</text><text x="52.3" y="238.30" font-size="10">−9</text>
</g>
<text x="205.8" y="283.1" font-size="14" fill="#000"><tspan font-style="italic">E</tspan></text>
<text x="215.8" y="286.4" font-size="10.5" font-style="italic" fill="#000">R</text>
<text x="227.9" y="283.1" font-size="14" fill="#000">[keV]</text>
<g transform="rotate(-90)" fill="#000">
<text x="-153.4" y="18" font-size="15" font-style="italic">F</text>
<text x="-144.6" y="11.8" font-size="10.5">2</text>
<text x="-144.9" y="22" font-size="10.5">Helm</text>
<text x="-120.2" y="17.9" font-size="15">(</text>
<text x="-114.2" y="18" font-size="14.7" font-style="italic">E</text>
<text x="-104.8" y="20.3" font-size="10.3" font-style="italic">R</text>
<text x="-96.6" y="17.9" font-size="15">)</text>
</g>
</svg></body></html>
